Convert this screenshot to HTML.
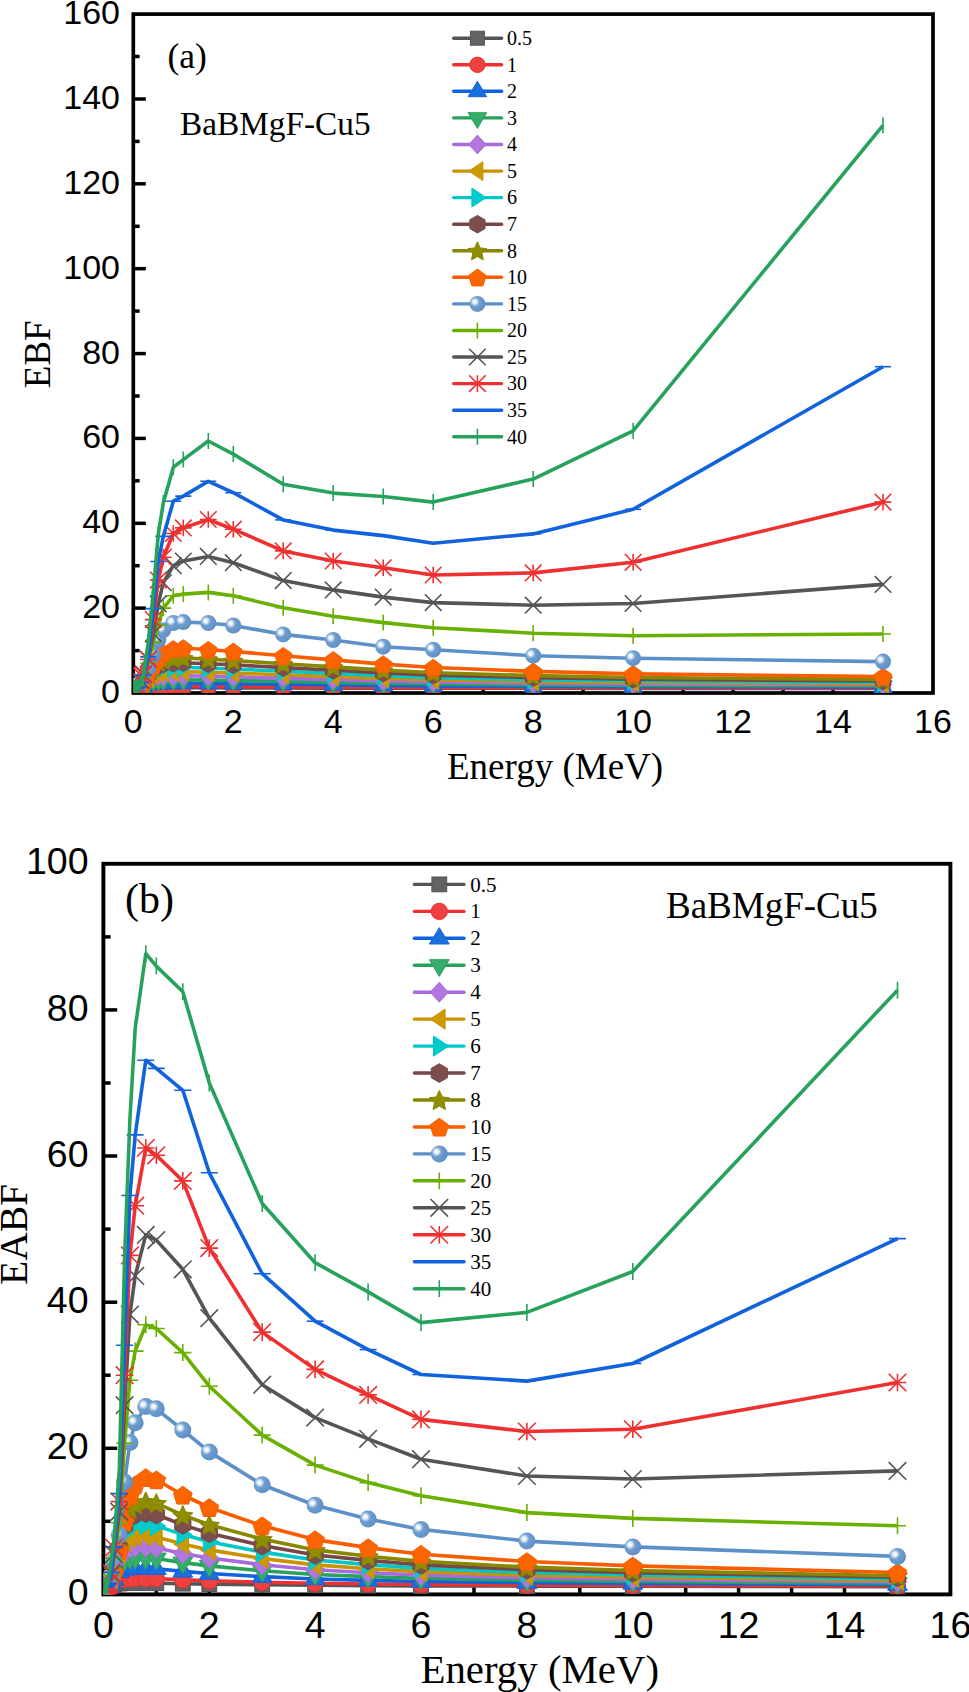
<!DOCTYPE html>
<html><head><meta charset="utf-8"><style>html,body{margin:0;padding:0;background:#fff;width:969px;height:1692px;overflow:hidden}svg{display:block}</style></head><body>
<svg width="969" height="1692" viewBox="0 0 969 1692">
<defs><radialGradient id="sph" cx="0.34" cy="0.37" r="0.66"><stop offset="0" stop-color="#ffffff"/><stop offset="0.18" stop-color="#e8f0f8"/><stop offset="0.45" stop-color="#6f9fd0"/><stop offset="1" stop-color="#5f8fc4"/></radialGradient></defs>
<rect width="969" height="1692" fill="#fff"/>
<clipPath id="ca"><rect x="133.30" y="14.10" width="799.70" height="678.90"/></clipPath>
<rect x="133.3" y="14.1" width="799.7" height="678.9" fill="none" stroke="#000" stroke-width="3.7"/>
<path d="M133.3,650.6H139.6" stroke="#000" stroke-width="3.5"/>
<path d="M133.3,608.1H145.8" stroke="#000" stroke-width="3.5"/>
<path d="M133.3,565.7H139.6" stroke="#000" stroke-width="3.5"/>
<path d="M133.3,523.3H145.8" stroke="#000" stroke-width="3.5"/>
<path d="M133.3,480.8H139.6" stroke="#000" stroke-width="3.5"/>
<path d="M133.3,438.4H145.8" stroke="#000" stroke-width="3.5"/>
<path d="M133.3,396.0H139.6" stroke="#000" stroke-width="3.5"/>
<path d="M133.3,353.6H145.8" stroke="#000" stroke-width="3.5"/>
<path d="M133.3,311.1H139.6" stroke="#000" stroke-width="3.5"/>
<path d="M133.3,268.7H145.8" stroke="#000" stroke-width="3.5"/>
<path d="M133.3,226.3H139.6" stroke="#000" stroke-width="3.5"/>
<path d="M133.3,183.8H145.8" stroke="#000" stroke-width="3.5"/>
<path d="M133.3,141.4H139.6" stroke="#000" stroke-width="3.5"/>
<path d="M133.3,99.0H145.8" stroke="#000" stroke-width="3.5"/>
<path d="M133.3,56.5H139.6" stroke="#000" stroke-width="3.5"/>
<path d="M183.3,693.0V686.7" stroke="#000" stroke-width="3.5"/>
<path d="M233.3,693.0V680.5" stroke="#000" stroke-width="3.5"/>
<path d="M283.2,693.0V686.7" stroke="#000" stroke-width="3.5"/>
<path d="M333.2,693.0V680.5" stroke="#000" stroke-width="3.5"/>
<path d="M383.2,693.0V686.7" stroke="#000" stroke-width="3.5"/>
<path d="M433.2,693.0V680.5" stroke="#000" stroke-width="3.5"/>
<path d="M483.2,693.0V686.7" stroke="#000" stroke-width="3.5"/>
<path d="M533.2,693.0V680.5" stroke="#000" stroke-width="3.5"/>
<path d="M583.1,693.0V686.7" stroke="#000" stroke-width="3.5"/>
<path d="M633.1,693.0V680.5" stroke="#000" stroke-width="3.5"/>
<path d="M683.1,693.0V686.7" stroke="#000" stroke-width="3.5"/>
<path d="M733.1,693.0V680.5" stroke="#000" stroke-width="3.5"/>
<path d="M783.1,693.0V686.7" stroke="#000" stroke-width="3.5"/>
<path d="M833.0,693.0V680.5" stroke="#000" stroke-width="3.5"/>
<path d="M883.0,693.0V686.7" stroke="#000" stroke-width="3.5"/>
<g clip-path="url(#ca)">
<path d="M134.0,688.8 L134.3,688.7 L134.8,688.7 L135.3,688.7 L135.8,688.7 L136.3,688.7 L137.3,688.7 L138.3,688.6 L140.8,688.5 L143.3,688.3 L148.3,688.0 L153.3,687.9 L158.3,687.8 L163.3,687.8 L173.3,687.8 L183.3,687.8 L208.3,687.8 L233.3,687.9 L283.2,688.0 L333.2,688.1 L383.2,688.2 L433.2,688.3 L533.2,688.3 L633.1,688.4 L883.0,688.5" fill="none" stroke="#555555" stroke-width="3.6" stroke-linejoin="round"/>
<rect x="127.0" y="681.8" width="14.0" height="14.0" fill="#636363" stroke="#555555" stroke-width="1"/>
<rect x="127.3" y="681.7" width="14.0" height="14.0" fill="#636363" stroke="#555555" stroke-width="1"/>
<rect x="127.8" y="681.7" width="14.0" height="14.0" fill="#636363" stroke="#555555" stroke-width="1"/>
<rect x="128.3" y="681.7" width="14.0" height="14.0" fill="#636363" stroke="#555555" stroke-width="1"/>
<rect x="128.8" y="681.7" width="14.0" height="14.0" fill="#636363" stroke="#555555" stroke-width="1"/>
<rect x="129.3" y="681.7" width="14.0" height="14.0" fill="#636363" stroke="#555555" stroke-width="1"/>
<rect x="130.3" y="681.7" width="14.0" height="14.0" fill="#636363" stroke="#555555" stroke-width="1"/>
<rect x="131.3" y="681.6" width="14.0" height="14.0" fill="#636363" stroke="#555555" stroke-width="1"/>
<rect x="133.8" y="681.5" width="14.0" height="14.0" fill="#636363" stroke="#555555" stroke-width="1"/>
<rect x="136.3" y="681.3" width="14.0" height="14.0" fill="#636363" stroke="#555555" stroke-width="1"/>
<rect x="141.3" y="681.0" width="14.0" height="14.0" fill="#636363" stroke="#555555" stroke-width="1"/>
<rect x="146.3" y="680.9" width="14.0" height="14.0" fill="#636363" stroke="#555555" stroke-width="1"/>
<rect x="151.3" y="680.8" width="14.0" height="14.0" fill="#636363" stroke="#555555" stroke-width="1"/>
<rect x="156.3" y="680.8" width="14.0" height="14.0" fill="#636363" stroke="#555555" stroke-width="1"/>
<rect x="166.3" y="680.8" width="14.0" height="14.0" fill="#636363" stroke="#555555" stroke-width="1"/>
<rect x="176.3" y="680.8" width="14.0" height="14.0" fill="#636363" stroke="#555555" stroke-width="1"/>
<rect x="201.3" y="680.8" width="14.0" height="14.0" fill="#636363" stroke="#555555" stroke-width="1"/>
<rect x="226.3" y="680.9" width="14.0" height="14.0" fill="#636363" stroke="#555555" stroke-width="1"/>
<rect x="276.2" y="681.0" width="14.0" height="14.0" fill="#636363" stroke="#555555" stroke-width="1"/>
<rect x="326.2" y="681.1" width="14.0" height="14.0" fill="#636363" stroke="#555555" stroke-width="1"/>
<rect x="376.2" y="681.2" width="14.0" height="14.0" fill="#636363" stroke="#555555" stroke-width="1"/>
<rect x="426.2" y="681.3" width="14.0" height="14.0" fill="#636363" stroke="#555555" stroke-width="1"/>
<rect x="526.2" y="681.3" width="14.0" height="14.0" fill="#636363" stroke="#555555" stroke-width="1"/>
<rect x="626.1" y="681.4" width="14.0" height="14.0" fill="#636363" stroke="#555555" stroke-width="1"/>
<rect x="876.0" y="681.5" width="14.0" height="14.0" fill="#636363" stroke="#555555" stroke-width="1"/>
<path d="M134.0,688.7 L134.3,688.7 L134.8,688.7 L135.3,688.7 L135.8,688.7 L136.3,688.7 L137.3,688.6 L138.3,688.5 L140.8,688.1 L143.3,687.7 L148.3,687.0 L153.3,686.6 L158.3,686.5 L163.3,686.5 L173.3,686.5 L183.3,686.5 L208.3,686.6 L233.3,686.7 L283.2,686.9 L333.2,687.1 L383.2,687.4 L433.2,687.6 L533.2,687.8 L633.1,687.9 L883.0,688.1" fill="none" stroke="#EE3030" stroke-width="3.6" stroke-linejoin="round"/>
<circle cx="134.0" cy="688.7" r="7.7" fill="#F14040" stroke="#EE3030" stroke-width="1"/>
<circle cx="134.3" cy="688.7" r="7.7" fill="#F14040" stroke="#EE3030" stroke-width="1"/>
<circle cx="134.8" cy="688.7" r="7.7" fill="#F14040" stroke="#EE3030" stroke-width="1"/>
<circle cx="135.3" cy="688.7" r="7.7" fill="#F14040" stroke="#EE3030" stroke-width="1"/>
<circle cx="135.8" cy="688.7" r="7.7" fill="#F14040" stroke="#EE3030" stroke-width="1"/>
<circle cx="136.3" cy="688.7" r="7.7" fill="#F14040" stroke="#EE3030" stroke-width="1"/>
<circle cx="137.3" cy="688.6" r="7.7" fill="#F14040" stroke="#EE3030" stroke-width="1"/>
<circle cx="138.3" cy="688.5" r="7.7" fill="#F14040" stroke="#EE3030" stroke-width="1"/>
<circle cx="140.8" cy="688.1" r="7.7" fill="#F14040" stroke="#EE3030" stroke-width="1"/>
<circle cx="143.3" cy="687.7" r="7.7" fill="#F14040" stroke="#EE3030" stroke-width="1"/>
<circle cx="148.3" cy="687.0" r="7.7" fill="#F14040" stroke="#EE3030" stroke-width="1"/>
<circle cx="153.3" cy="686.6" r="7.7" fill="#F14040" stroke="#EE3030" stroke-width="1"/>
<circle cx="158.3" cy="686.5" r="7.7" fill="#F14040" stroke="#EE3030" stroke-width="1"/>
<circle cx="163.3" cy="686.5" r="7.7" fill="#F14040" stroke="#EE3030" stroke-width="1"/>
<circle cx="173.3" cy="686.5" r="7.7" fill="#F14040" stroke="#EE3030" stroke-width="1"/>
<circle cx="183.3" cy="686.5" r="7.7" fill="#F14040" stroke="#EE3030" stroke-width="1"/>
<circle cx="208.3" cy="686.6" r="7.7" fill="#F14040" stroke="#EE3030" stroke-width="1"/>
<circle cx="233.3" cy="686.7" r="7.7" fill="#F14040" stroke="#EE3030" stroke-width="1"/>
<circle cx="283.2" cy="686.9" r="7.7" fill="#F14040" stroke="#EE3030" stroke-width="1"/>
<circle cx="333.2" cy="687.1" r="7.7" fill="#F14040" stroke="#EE3030" stroke-width="1"/>
<circle cx="383.2" cy="687.4" r="7.7" fill="#F14040" stroke="#EE3030" stroke-width="1"/>
<circle cx="433.2" cy="687.6" r="7.7" fill="#F14040" stroke="#EE3030" stroke-width="1"/>
<circle cx="533.2" cy="687.8" r="7.7" fill="#F14040" stroke="#EE3030" stroke-width="1"/>
<circle cx="633.1" cy="687.9" r="7.7" fill="#F14040" stroke="#EE3030" stroke-width="1"/>
<circle cx="883.0" cy="688.1" r="7.7" fill="#F14040" stroke="#EE3030" stroke-width="1"/>
<path d="M134.0,688.7 L134.3,688.7 L134.8,688.7 L135.3,688.7 L135.8,688.6 L136.3,688.6 L137.3,688.4 L138.3,688.2 L140.8,687.4 L143.3,686.5 L148.3,684.7 L153.3,683.8 L158.3,683.4 L163.3,683.4 L173.3,683.4 L183.3,683.3 L208.3,683.5 L233.3,683.8 L283.2,684.3 L333.2,684.9 L383.2,685.5 L433.2,685.9 L533.2,686.4 L633.1,686.8 L883.0,687.1" fill="none" stroke="#1162DD" stroke-width="3.6" stroke-linejoin="round"/>
<path d="M134.0,678.7L143.3,694.1L124.7,694.1Z" fill="#1A6FDF" stroke="#1162DD" stroke-width="1"/>
<path d="M134.3,678.7L143.6,694.1L125.0,694.1Z" fill="#1A6FDF" stroke="#1162DD" stroke-width="1"/>
<path d="M134.8,678.7L144.1,694.1L125.5,694.1Z" fill="#1A6FDF" stroke="#1162DD" stroke-width="1"/>
<path d="M135.3,678.7L144.6,694.1L126.0,694.1Z" fill="#1A6FDF" stroke="#1162DD" stroke-width="1"/>
<path d="M135.8,678.6L145.1,694.0L126.5,694.0Z" fill="#1A6FDF" stroke="#1162DD" stroke-width="1"/>
<path d="M136.3,678.6L145.6,694.0L127.0,694.0Z" fill="#1A6FDF" stroke="#1162DD" stroke-width="1"/>
<path d="M137.3,678.4L146.6,693.8L128.0,693.8Z" fill="#1A6FDF" stroke="#1162DD" stroke-width="1"/>
<path d="M138.3,678.2L147.6,693.6L129.0,693.6Z" fill="#1A6FDF" stroke="#1162DD" stroke-width="1"/>
<path d="M140.8,677.4L150.1,692.8L131.5,692.8Z" fill="#1A6FDF" stroke="#1162DD" stroke-width="1"/>
<path d="M143.3,676.5L152.6,691.9L134.0,691.9Z" fill="#1A6FDF" stroke="#1162DD" stroke-width="1"/>
<path d="M148.3,674.7L157.6,690.1L139.0,690.1Z" fill="#1A6FDF" stroke="#1162DD" stroke-width="1"/>
<path d="M153.3,673.8L162.6,689.2L144.0,689.2Z" fill="#1A6FDF" stroke="#1162DD" stroke-width="1"/>
<path d="M158.3,673.4L167.6,688.8L149.0,688.8Z" fill="#1A6FDF" stroke="#1162DD" stroke-width="1"/>
<path d="M163.3,673.4L172.6,688.8L154.0,688.8Z" fill="#1A6FDF" stroke="#1162DD" stroke-width="1"/>
<path d="M173.3,673.4L182.6,688.8L164.0,688.8Z" fill="#1A6FDF" stroke="#1162DD" stroke-width="1"/>
<path d="M183.3,673.3L192.6,688.7L174.0,688.7Z" fill="#1A6FDF" stroke="#1162DD" stroke-width="1"/>
<path d="M208.3,673.5L217.6,688.9L199.0,688.9Z" fill="#1A6FDF" stroke="#1162DD" stroke-width="1"/>
<path d="M233.3,673.8L242.6,689.2L224.0,689.2Z" fill="#1A6FDF" stroke="#1162DD" stroke-width="1"/>
<path d="M283.2,674.3L292.5,689.7L273.9,689.7Z" fill="#1A6FDF" stroke="#1162DD" stroke-width="1"/>
<path d="M333.2,674.9L342.5,690.3L323.9,690.3Z" fill="#1A6FDF" stroke="#1162DD" stroke-width="1"/>
<path d="M383.2,675.5L392.5,690.9L373.9,690.9Z" fill="#1A6FDF" stroke="#1162DD" stroke-width="1"/>
<path d="M433.2,675.9L442.5,691.3L423.9,691.3Z" fill="#1A6FDF" stroke="#1162DD" stroke-width="1"/>
<path d="M533.2,676.4L542.5,691.8L523.9,691.8Z" fill="#1A6FDF" stroke="#1162DD" stroke-width="1"/>
<path d="M633.1,676.8L642.4,692.2L623.8,692.2Z" fill="#1A6FDF" stroke="#1162DD" stroke-width="1"/>
<path d="M883.0,677.1L892.3,692.5L873.7,692.5Z" fill="#1A6FDF" stroke="#1162DD" stroke-width="1"/>
<path d="M134.0,688.7 L134.3,688.7 L134.8,688.7 L135.3,688.6 L135.8,688.5 L136.3,688.5 L137.3,688.2 L138.3,687.9 L140.8,686.7 L143.3,685.2 L148.3,682.4 L153.3,680.6 L158.3,680.0 L163.3,679.9 L173.3,679.9 L183.3,679.7 L208.3,680.1 L233.3,680.5 L283.2,681.4 L333.2,682.4 L383.2,683.3 L433.2,684.0 L533.2,684.9 L633.1,685.5 L883.0,686.0" fill="none" stroke="#27A25C" stroke-width="3.6" stroke-linejoin="round"/>
<path d="M134.0,699.2L143.3,683.5L124.7,683.5Z" fill="#37AD6B" stroke="#27A25C" stroke-width="1"/>
<path d="M134.3,699.2L143.6,683.5L125.0,683.5Z" fill="#37AD6B" stroke="#27A25C" stroke-width="1"/>
<path d="M134.8,699.2L144.1,683.5L125.5,683.5Z" fill="#37AD6B" stroke="#27A25C" stroke-width="1"/>
<path d="M135.3,699.1L144.6,683.4L126.0,683.4Z" fill="#37AD6B" stroke="#27A25C" stroke-width="1"/>
<path d="M135.8,699.0L145.1,683.3L126.5,683.3Z" fill="#37AD6B" stroke="#27A25C" stroke-width="1"/>
<path d="M136.3,699.0L145.6,683.3L127.0,683.3Z" fill="#37AD6B" stroke="#27A25C" stroke-width="1"/>
<path d="M137.3,698.7L146.6,683.0L128.0,683.0Z" fill="#37AD6B" stroke="#27A25C" stroke-width="1"/>
<path d="M138.3,698.4L147.6,682.7L129.0,682.7Z" fill="#37AD6B" stroke="#27A25C" stroke-width="1"/>
<path d="M140.8,697.2L150.1,681.5L131.5,681.5Z" fill="#37AD6B" stroke="#27A25C" stroke-width="1"/>
<path d="M143.3,695.7L152.6,680.0L134.0,680.0Z" fill="#37AD6B" stroke="#27A25C" stroke-width="1"/>
<path d="M148.3,692.9L157.6,677.2L139.0,677.2Z" fill="#37AD6B" stroke="#27A25C" stroke-width="1"/>
<path d="M153.3,691.1L162.6,675.4L144.0,675.4Z" fill="#37AD6B" stroke="#27A25C" stroke-width="1"/>
<path d="M158.3,690.5L167.6,674.8L149.0,674.8Z" fill="#37AD6B" stroke="#27A25C" stroke-width="1"/>
<path d="M163.3,690.4L172.6,674.7L154.0,674.7Z" fill="#37AD6B" stroke="#27A25C" stroke-width="1"/>
<path d="M173.3,690.4L182.6,674.7L164.0,674.7Z" fill="#37AD6B" stroke="#27A25C" stroke-width="1"/>
<path d="M183.3,690.2L192.6,674.5L174.0,674.5Z" fill="#37AD6B" stroke="#27A25C" stroke-width="1"/>
<path d="M208.3,690.6L217.6,674.9L199.0,674.9Z" fill="#37AD6B" stroke="#27A25C" stroke-width="1"/>
<path d="M233.3,691.0L242.6,675.3L224.0,675.3Z" fill="#37AD6B" stroke="#27A25C" stroke-width="1"/>
<path d="M283.2,691.9L292.5,676.2L273.9,676.2Z" fill="#37AD6B" stroke="#27A25C" stroke-width="1"/>
<path d="M333.2,692.9L342.5,677.2L323.9,677.2Z" fill="#37AD6B" stroke="#27A25C" stroke-width="1"/>
<path d="M383.2,693.8L392.5,678.1L373.9,678.1Z" fill="#37AD6B" stroke="#27A25C" stroke-width="1"/>
<path d="M433.2,694.5L442.5,678.8L423.9,678.8Z" fill="#37AD6B" stroke="#27A25C" stroke-width="1"/>
<path d="M533.2,695.4L542.5,679.7L523.9,679.7Z" fill="#37AD6B" stroke="#27A25C" stroke-width="1"/>
<path d="M633.1,696.0L642.4,680.3L623.8,680.3Z" fill="#37AD6B" stroke="#27A25C" stroke-width="1"/>
<path d="M883.0,696.5L892.3,680.8L873.7,680.8Z" fill="#37AD6B" stroke="#27A25C" stroke-width="1"/>
<path d="M134.0,688.7 L134.3,688.7 L134.8,688.6 L135.3,688.5 L135.8,688.5 L136.3,688.4 L137.3,688.1 L138.3,687.7 L140.8,686.1 L143.3,684.1 L148.3,680.3 L153.3,677.4 L158.3,676.4 L163.3,676.1 L173.3,676.1 L183.3,675.8 L208.3,676.3 L233.3,676.9 L283.2,678.2 L333.2,679.6 L383.2,680.9 L433.2,682.0 L533.2,683.2 L633.1,684.0 L883.0,684.8" fill="none" stroke="#A96ADD" stroke-width="3.6" stroke-linejoin="round"/>
<path d="M134.0,679.3L142.6,688.7L134.0,698.1L125.4,688.7Z" fill="#B177DE" stroke="#A96ADD" stroke-width="1"/>
<path d="M134.3,679.3L142.9,688.7L134.3,698.1L125.7,688.7Z" fill="#B177DE" stroke="#A96ADD" stroke-width="1"/>
<path d="M134.8,679.2L143.4,688.6L134.8,698.0L126.2,688.6Z" fill="#B177DE" stroke="#A96ADD" stroke-width="1"/>
<path d="M135.3,679.1L143.9,688.5L135.3,697.9L126.7,688.5Z" fill="#B177DE" stroke="#A96ADD" stroke-width="1"/>
<path d="M135.8,679.1L144.4,688.5L135.8,697.9L127.2,688.5Z" fill="#B177DE" stroke="#A96ADD" stroke-width="1"/>
<path d="M136.3,679.0L144.9,688.4L136.3,697.8L127.7,688.4Z" fill="#B177DE" stroke="#A96ADD" stroke-width="1"/>
<path d="M137.3,678.7L145.9,688.1L137.3,697.5L128.7,688.1Z" fill="#B177DE" stroke="#A96ADD" stroke-width="1"/>
<path d="M138.3,678.3L146.9,687.7L138.3,697.1L129.7,687.7Z" fill="#B177DE" stroke="#A96ADD" stroke-width="1"/>
<path d="M140.8,676.7L149.4,686.1L140.8,695.5L132.2,686.1Z" fill="#B177DE" stroke="#A96ADD" stroke-width="1"/>
<path d="M143.3,674.7L151.9,684.1L143.3,693.5L134.7,684.1Z" fill="#B177DE" stroke="#A96ADD" stroke-width="1"/>
<path d="M148.3,670.9L156.9,680.3L148.3,689.7L139.7,680.3Z" fill="#B177DE" stroke="#A96ADD" stroke-width="1"/>
<path d="M153.3,668.0L161.9,677.4L153.3,686.8L144.7,677.4Z" fill="#B177DE" stroke="#A96ADD" stroke-width="1"/>
<path d="M158.3,667.0L166.9,676.4L158.3,685.8L149.7,676.4Z" fill="#B177DE" stroke="#A96ADD" stroke-width="1"/>
<path d="M163.3,666.7L171.9,676.1L163.3,685.5L154.7,676.1Z" fill="#B177DE" stroke="#A96ADD" stroke-width="1"/>
<path d="M173.3,666.7L181.9,676.1L173.3,685.5L164.7,676.1Z" fill="#B177DE" stroke="#A96ADD" stroke-width="1"/>
<path d="M183.3,666.4L191.9,675.8L183.3,685.2L174.7,675.8Z" fill="#B177DE" stroke="#A96ADD" stroke-width="1"/>
<path d="M208.3,666.9L216.9,676.3L208.3,685.7L199.7,676.3Z" fill="#B177DE" stroke="#A96ADD" stroke-width="1"/>
<path d="M233.3,667.5L241.9,676.9L233.3,686.3L224.7,676.9Z" fill="#B177DE" stroke="#A96ADD" stroke-width="1"/>
<path d="M283.2,668.8L291.8,678.2L283.2,687.6L274.6,678.2Z" fill="#B177DE" stroke="#A96ADD" stroke-width="1"/>
<path d="M333.2,670.2L341.8,679.6L333.2,689.0L324.6,679.6Z" fill="#B177DE" stroke="#A96ADD" stroke-width="1"/>
<path d="M383.2,671.5L391.8,680.9L383.2,690.3L374.6,680.9Z" fill="#B177DE" stroke="#A96ADD" stroke-width="1"/>
<path d="M433.2,672.6L441.8,682.0L433.2,691.4L424.6,682.0Z" fill="#B177DE" stroke="#A96ADD" stroke-width="1"/>
<path d="M533.2,673.8L541.8,683.2L533.2,692.6L524.6,683.2Z" fill="#B177DE" stroke="#A96ADD" stroke-width="1"/>
<path d="M633.1,674.6L641.7,684.0L633.1,693.4L624.5,684.0Z" fill="#B177DE" stroke="#A96ADD" stroke-width="1"/>
<path d="M883.0,675.4L891.6,684.8L883.0,694.2L874.4,684.8Z" fill="#B177DE" stroke="#A96ADD" stroke-width="1"/>
<path d="M134.0,688.7 L134.3,688.7 L134.8,688.6 L135.3,688.5 L135.8,688.4 L136.3,688.3 L137.3,688.0 L138.3,687.5 L140.8,685.7 L143.3,683.2 L148.3,678.3 L153.3,674.4 L158.3,672.8 L163.3,672.0 L173.3,672.0 L183.3,671.6 L208.3,672.3 L233.3,673.1 L283.2,674.8 L333.2,676.6 L383.2,678.4 L433.2,679.8 L533.2,681.4 L633.1,682.5 L883.0,683.6" fill="none" stroke="#C99300" stroke-width="3.6" stroke-linejoin="round"/>
<path d="M125.5,688.7L139.5,679.2L139.5,698.2Z" fill="#CC9900" stroke="#C99300" stroke-width="1"/>
<path d="M125.8,688.7L139.8,679.2L139.8,698.2Z" fill="#CC9900" stroke="#C99300" stroke-width="1"/>
<path d="M126.3,688.6L140.3,679.1L140.3,698.1Z" fill="#CC9900" stroke="#C99300" stroke-width="1"/>
<path d="M126.8,688.5L140.8,679.0L140.8,698.0Z" fill="#CC9900" stroke="#C99300" stroke-width="1"/>
<path d="M127.3,688.4L141.3,678.9L141.3,697.9Z" fill="#CC9900" stroke="#C99300" stroke-width="1"/>
<path d="M127.8,688.3L141.8,678.8L141.8,697.8Z" fill="#CC9900" stroke="#C99300" stroke-width="1"/>
<path d="M128.8,688.0L142.8,678.5L142.8,697.5Z" fill="#CC9900" stroke="#C99300" stroke-width="1"/>
<path d="M129.8,687.5L143.8,678.0L143.8,697.0Z" fill="#CC9900" stroke="#C99300" stroke-width="1"/>
<path d="M132.3,685.7L146.3,676.2L146.3,695.2Z" fill="#CC9900" stroke="#C99300" stroke-width="1"/>
<path d="M134.8,683.2L148.8,673.7L148.8,692.7Z" fill="#CC9900" stroke="#C99300" stroke-width="1"/>
<path d="M139.8,678.3L153.8,668.8L153.8,687.8Z" fill="#CC9900" stroke="#C99300" stroke-width="1"/>
<path d="M144.8,674.4L158.8,664.9L158.8,683.9Z" fill="#CC9900" stroke="#C99300" stroke-width="1"/>
<path d="M149.8,672.8L163.8,663.3L163.8,682.3Z" fill="#CC9900" stroke="#C99300" stroke-width="1"/>
<path d="M154.8,672.0L168.8,662.5L168.8,681.5Z" fill="#CC9900" stroke="#C99300" stroke-width="1"/>
<path d="M164.8,672.0L178.8,662.5L178.8,681.5Z" fill="#CC9900" stroke="#C99300" stroke-width="1"/>
<path d="M174.8,671.6L188.8,662.1L188.8,681.1Z" fill="#CC9900" stroke="#C99300" stroke-width="1"/>
<path d="M199.8,672.3L213.8,662.8L213.8,681.8Z" fill="#CC9900" stroke="#C99300" stroke-width="1"/>
<path d="M224.8,673.1L238.8,663.6L238.8,682.6Z" fill="#CC9900" stroke="#C99300" stroke-width="1"/>
<path d="M274.7,674.8L288.7,665.3L288.7,684.3Z" fill="#CC9900" stroke="#C99300" stroke-width="1"/>
<path d="M324.7,676.6L338.7,667.1L338.7,686.1Z" fill="#CC9900" stroke="#C99300" stroke-width="1"/>
<path d="M374.7,678.4L388.7,668.9L388.7,687.9Z" fill="#CC9900" stroke="#C99300" stroke-width="1"/>
<path d="M424.7,679.8L438.7,670.3L438.7,689.3Z" fill="#CC9900" stroke="#C99300" stroke-width="1"/>
<path d="M524.7,681.4L538.7,671.9L538.7,690.9Z" fill="#CC9900" stroke="#C99300" stroke-width="1"/>
<path d="M624.6,682.5L638.6,673.0L638.6,692.0Z" fill="#CC9900" stroke="#C99300" stroke-width="1"/>
<path d="M874.5,683.6L888.5,674.1L888.5,693.1Z" fill="#CC9900" stroke="#C99300" stroke-width="1"/>
<path d="M134.0,688.7 L134.3,688.7 L134.8,688.6 L135.3,688.5 L135.8,688.4 L136.3,688.2 L137.3,688.0 L138.3,687.4 L140.8,685.5 L143.3,682.5 L148.3,676.6 L153.3,671.6 L158.3,669.1 L163.3,667.8 L173.3,667.7 L183.3,667.2 L208.3,668.1 L233.3,669.0 L283.2,671.3 L333.2,673.5 L383.2,675.8 L433.2,677.6 L533.2,679.6 L633.1,680.9 L883.0,682.3" fill="none" stroke="#00C6C8" stroke-width="3.6" stroke-linejoin="round"/>
<path d="M142.8,688.7L128.5,679.2L128.5,698.2Z" fill="#00CBCC" stroke="#00C6C8" stroke-width="1"/>
<path d="M143.1,688.7L128.8,679.2L128.8,698.2Z" fill="#00CBCC" stroke="#00C6C8" stroke-width="1"/>
<path d="M143.6,688.6L129.3,679.1L129.3,698.1Z" fill="#00CBCC" stroke="#00C6C8" stroke-width="1"/>
<path d="M144.1,688.5L129.8,679.0L129.8,698.0Z" fill="#00CBCC" stroke="#00C6C8" stroke-width="1"/>
<path d="M144.6,688.4L130.3,678.9L130.3,697.9Z" fill="#00CBCC" stroke="#00C6C8" stroke-width="1"/>
<path d="M145.1,688.2L130.8,678.7L130.8,697.7Z" fill="#00CBCC" stroke="#00C6C8" stroke-width="1"/>
<path d="M146.1,688.0L131.8,678.5L131.8,697.5Z" fill="#00CBCC" stroke="#00C6C8" stroke-width="1"/>
<path d="M147.1,687.4L132.8,677.9L132.8,696.9Z" fill="#00CBCC" stroke="#00C6C8" stroke-width="1"/>
<path d="M149.6,685.5L135.3,676.0L135.3,695.0Z" fill="#00CBCC" stroke="#00C6C8" stroke-width="1"/>
<path d="M152.1,682.5L137.8,673.0L137.8,692.0Z" fill="#00CBCC" stroke="#00C6C8" stroke-width="1"/>
<path d="M157.1,676.6L142.8,667.1L142.8,686.1Z" fill="#00CBCC" stroke="#00C6C8" stroke-width="1"/>
<path d="M162.1,671.6L147.8,662.1L147.8,681.1Z" fill="#00CBCC" stroke="#00C6C8" stroke-width="1"/>
<path d="M167.1,669.1L152.8,659.6L152.8,678.6Z" fill="#00CBCC" stroke="#00C6C8" stroke-width="1"/>
<path d="M172.1,667.8L157.8,658.3L157.8,677.3Z" fill="#00CBCC" stroke="#00C6C8" stroke-width="1"/>
<path d="M182.1,667.7L167.8,658.2L167.8,677.2Z" fill="#00CBCC" stroke="#00C6C8" stroke-width="1"/>
<path d="M192.1,667.2L177.8,657.7L177.8,676.7Z" fill="#00CBCC" stroke="#00C6C8" stroke-width="1"/>
<path d="M217.1,668.1L202.8,658.6L202.8,677.6Z" fill="#00CBCC" stroke="#00C6C8" stroke-width="1"/>
<path d="M242.1,669.0L227.8,659.5L227.8,678.5Z" fill="#00CBCC" stroke="#00C6C8" stroke-width="1"/>
<path d="M292.0,671.3L277.7,661.8L277.7,680.8Z" fill="#00CBCC" stroke="#00C6C8" stroke-width="1"/>
<path d="M342.0,673.5L327.7,664.0L327.7,683.0Z" fill="#00CBCC" stroke="#00C6C8" stroke-width="1"/>
<path d="M392.0,675.8L377.7,666.3L377.7,685.3Z" fill="#00CBCC" stroke="#00C6C8" stroke-width="1"/>
<path d="M442.0,677.6L427.7,668.1L427.7,687.1Z" fill="#00CBCC" stroke="#00C6C8" stroke-width="1"/>
<path d="M542.0,679.6L527.7,670.1L527.7,689.1Z" fill="#00CBCC" stroke="#00C6C8" stroke-width="1"/>
<path d="M641.9,680.9L627.6,671.4L627.6,690.4Z" fill="#00CBCC" stroke="#00C6C8" stroke-width="1"/>
<path d="M891.8,682.3L877.5,672.8L877.5,691.8Z" fill="#00CBCC" stroke="#00C6C8" stroke-width="1"/>
<path d="M134.0,688.7 L134.3,688.7 L134.8,688.5 L135.3,688.4 L135.8,688.3 L136.3,688.2 L137.3,687.9 L138.3,687.3 L140.8,685.2 L143.3,682.1 L148.3,675.3 L153.3,669.1 L158.3,665.4 L163.3,663.9 L173.3,663.2 L183.3,662.7 L208.3,663.8 L233.3,664.8 L283.2,667.6 L333.2,670.3 L383.2,673.0 L433.2,675.2 L533.2,677.6 L633.1,679.2 L883.0,680.9" fill="none" stroke="#774646" stroke-width="3.6" stroke-linejoin="round"/>
<polygon points="134.0,679.9 126.4,684.3 126.4,693.1 134.0,697.5 141.7,693.1 141.7,684.3" fill="#7D4E4E" stroke="#774646" stroke-width="1"/>
<polygon points="134.3,679.9 126.7,684.3 126.7,693.1 134.3,697.5 141.9,693.1 141.9,684.3" fill="#7D4E4E" stroke="#774646" stroke-width="1"/>
<polygon points="134.8,679.7 127.2,684.1 127.2,692.9 134.8,697.3 142.4,692.9 142.4,684.1" fill="#7D4E4E" stroke="#774646" stroke-width="1"/>
<polygon points="135.3,679.6 127.7,684.0 127.7,692.8 135.3,697.2 142.9,692.8 142.9,684.0" fill="#7D4E4E" stroke="#774646" stroke-width="1"/>
<polygon points="135.8,679.5 128.2,683.9 128.2,692.7 135.8,697.1 143.4,692.7 143.4,683.9" fill="#7D4E4E" stroke="#774646" stroke-width="1"/>
<polygon points="136.3,679.4 128.7,683.8 128.7,692.6 136.3,697.0 143.9,692.6 143.9,683.8" fill="#7D4E4E" stroke="#774646" stroke-width="1"/>
<polygon points="137.3,679.1 129.7,683.5 129.7,692.3 137.3,696.7 144.9,692.3 144.9,683.5" fill="#7D4E4E" stroke="#774646" stroke-width="1"/>
<polygon points="138.3,678.5 130.7,682.9 130.7,691.7 138.3,696.1 145.9,691.7 145.9,682.9" fill="#7D4E4E" stroke="#774646" stroke-width="1"/>
<polygon points="140.8,676.4 133.2,680.8 133.2,689.6 140.8,694.0 148.4,689.6 148.4,680.8" fill="#7D4E4E" stroke="#774646" stroke-width="1"/>
<polygon points="143.3,673.3 135.7,677.7 135.7,686.5 143.3,690.9 150.9,686.5 150.9,677.7" fill="#7D4E4E" stroke="#774646" stroke-width="1"/>
<polygon points="148.3,666.5 140.7,670.9 140.7,679.7 148.3,684.1 155.9,679.7 155.9,670.9" fill="#7D4E4E" stroke="#774646" stroke-width="1"/>
<polygon points="153.3,660.3 145.7,664.7 145.7,673.5 153.3,677.9 160.9,673.5 160.9,664.7" fill="#7D4E4E" stroke="#774646" stroke-width="1"/>
<polygon points="158.3,656.6 150.7,661.0 150.7,669.8 158.3,674.2 165.9,669.8 165.9,661.0" fill="#7D4E4E" stroke="#774646" stroke-width="1"/>
<polygon points="163.3,655.1 155.7,659.5 155.7,668.3 163.3,672.7 170.9,668.3 170.9,659.5" fill="#7D4E4E" stroke="#774646" stroke-width="1"/>
<polygon points="173.3,654.4 165.7,658.8 165.7,667.6 173.3,672.0 180.9,667.6 180.9,658.8" fill="#7D4E4E" stroke="#774646" stroke-width="1"/>
<polygon points="183.3,653.9 175.7,658.3 175.7,667.1 183.3,671.5 190.9,667.1 190.9,658.3" fill="#7D4E4E" stroke="#774646" stroke-width="1"/>
<polygon points="208.3,655.0 200.7,659.4 200.7,668.2 208.3,672.6 215.9,668.2 215.9,659.4" fill="#7D4E4E" stroke="#774646" stroke-width="1"/>
<polygon points="233.3,656.0 225.6,660.4 225.6,669.2 233.3,673.6 240.9,669.2 240.9,660.4" fill="#7D4E4E" stroke="#774646" stroke-width="1"/>
<polygon points="283.2,658.8 275.6,663.2 275.6,672.0 283.2,676.4 290.9,672.0 290.9,663.2" fill="#7D4E4E" stroke="#774646" stroke-width="1"/>
<polygon points="333.2,661.5 325.6,665.9 325.6,674.7 333.2,679.1 340.8,674.7 340.8,665.9" fill="#7D4E4E" stroke="#774646" stroke-width="1"/>
<polygon points="383.2,664.2 375.6,668.6 375.6,677.4 383.2,681.8 390.8,677.4 390.8,668.6" fill="#7D4E4E" stroke="#774646" stroke-width="1"/>
<polygon points="433.2,666.4 425.6,670.8 425.6,679.6 433.2,684.0 440.8,679.6 440.8,670.8" fill="#7D4E4E" stroke="#774646" stroke-width="1"/>
<polygon points="533.2,668.8 525.5,673.2 525.5,682.0 533.2,686.4 540.8,682.0 540.8,673.2" fill="#7D4E4E" stroke="#774646" stroke-width="1"/>
<polygon points="633.1,670.4 625.5,674.8 625.5,683.6 633.1,688.0 640.7,683.6 640.7,674.8" fill="#7D4E4E" stroke="#774646" stroke-width="1"/>
<polygon points="883.0,672.1 875.4,676.5 875.4,685.3 883.0,689.7 890.6,685.3 890.6,676.5" fill="#7D4E4E" stroke="#774646" stroke-width="1"/>
<path d="M134.0,688.7 L134.3,688.7 L134.8,688.5 L135.3,688.4 L135.8,688.3 L136.3,688.1 L137.3,687.9 L138.3,687.3 L140.8,685.1 L143.3,681.9 L148.3,674.4 L153.3,667.4 L158.3,662.2 L163.3,660.1 L173.3,658.6 L183.3,657.9 L208.3,659.2 L233.3,660.5 L283.2,663.7 L333.2,666.9 L383.2,670.1 L433.2,672.7 L533.2,675.6 L633.1,677.5 L883.0,679.4" fill="none" stroke="#878700" stroke-width="3.6" stroke-linejoin="round"/>
<polygon points="134.0,679.7 131.2,685.8 124.5,686.6 129.5,691.2 128.2,697.8 134.0,694.5 139.9,697.8 138.6,691.2 143.6,686.6 136.9,685.8" fill="#8E8E00" stroke="#878700" stroke-width="1"/>
<polygon points="134.3,679.7 131.5,685.8 124.8,686.6 129.7,691.1 128.4,697.8 134.3,694.5 140.2,697.8 138.9,691.1 143.8,686.6 137.1,685.8" fill="#8E8E00" stroke="#878700" stroke-width="1"/>
<polygon points="134.8,679.5 132.0,685.6 125.3,686.4 130.2,691.0 128.9,697.6 134.8,694.3 140.7,697.6 139.4,691.0 144.3,686.4 137.6,685.6" fill="#8E8E00" stroke="#878700" stroke-width="1"/>
<polygon points="135.3,679.4 132.5,685.5 125.8,686.3 130.7,690.9 129.4,697.5 135.3,694.2 141.2,697.5 139.9,690.9 144.8,686.3 138.1,685.5" fill="#8E8E00" stroke="#878700" stroke-width="1"/>
<polygon points="135.8,679.3 133.0,685.4 126.3,686.2 131.2,690.8 129.9,697.4 135.8,694.1 141.7,697.4 140.4,690.8 145.3,686.2 138.6,685.4" fill="#8E8E00" stroke="#878700" stroke-width="1"/>
<polygon points="136.3,679.1 133.5,685.3 126.8,686.0 131.7,690.6 130.4,697.2 136.3,693.9 142.2,697.2 140.9,690.6 145.8,686.0 139.1,685.3" fill="#8E8E00" stroke="#878700" stroke-width="1"/>
<polygon points="137.3,678.9 134.5,685.0 127.8,685.8 132.7,690.4 131.4,697.0 137.3,693.7 143.2,697.0 141.9,690.4 146.8,685.8 140.1,685.0" fill="#8E8E00" stroke="#878700" stroke-width="1"/>
<polygon points="138.3,678.3 135.5,684.4 128.8,685.2 133.7,689.8 132.4,696.4 138.3,693.1 144.2,696.4 142.9,689.8 147.8,685.2 141.1,684.4" fill="#8E8E00" stroke="#878700" stroke-width="1"/>
<polygon points="140.8,676.1 138.0,682.2 131.3,683.0 136.2,687.6 134.9,694.2 140.8,690.9 146.7,694.2 145.4,687.6 150.3,683.0 143.6,682.2" fill="#8E8E00" stroke="#878700" stroke-width="1"/>
<polygon points="143.3,672.9 140.5,679.0 133.8,679.8 138.7,684.4 137.4,691.0 143.3,687.7 149.2,691.0 147.9,684.4 152.8,679.8 146.1,679.0" fill="#8E8E00" stroke="#878700" stroke-width="1"/>
<polygon points="148.3,665.4 145.5,671.6 138.8,672.3 143.7,676.9 142.4,683.5 148.3,680.2 154.2,683.5 152.9,676.9 157.8,672.3 151.1,671.6" fill="#8E8E00" stroke="#878700" stroke-width="1"/>
<polygon points="153.3,658.4 150.5,664.5 143.8,665.3 148.7,669.9 147.4,676.5 153.3,673.2 159.2,676.5 157.9,669.9 162.8,665.3 156.1,664.5" fill="#8E8E00" stroke="#878700" stroke-width="1"/>
<polygon points="158.3,653.2 155.5,659.4 148.8,660.1 153.7,664.7 152.4,671.3 158.3,668.0 164.2,671.3 162.9,664.7 167.8,660.1 161.1,659.4" fill="#8E8E00" stroke="#878700" stroke-width="1"/>
<polygon points="163.3,651.1 160.5,657.2 153.8,658.0 158.7,662.6 157.4,669.2 163.3,665.9 169.2,669.2 167.9,662.6 172.8,658.0 166.1,657.2" fill="#8E8E00" stroke="#878700" stroke-width="1"/>
<polygon points="173.3,649.6 170.5,655.7 163.8,656.5 168.7,661.1 167.4,667.7 173.3,664.4 179.2,667.7 177.9,661.1 182.8,656.5 176.1,655.7" fill="#8E8E00" stroke="#878700" stroke-width="1"/>
<polygon points="183.3,648.9 180.5,655.1 173.8,655.8 178.7,660.4 177.4,667.0 183.3,663.7 189.2,667.0 187.8,660.4 192.8,655.8 186.1,655.1" fill="#8E8E00" stroke="#878700" stroke-width="1"/>
<polygon points="208.3,650.2 205.5,656.3 198.8,657.1 203.7,661.7 202.4,668.3 208.3,665.0 214.1,668.3 212.8,661.7 217.8,657.1 211.1,656.3" fill="#8E8E00" stroke="#878700" stroke-width="1"/>
<polygon points="233.3,651.5 230.4,657.6 223.8,658.4 228.7,663.0 227.4,669.6 233.3,666.3 239.1,669.6 237.8,663.0 242.8,658.4 236.1,657.6" fill="#8E8E00" stroke="#878700" stroke-width="1"/>
<polygon points="283.2,654.7 280.4,660.8 273.7,661.6 278.7,666.2 277.4,672.8 283.2,669.5 289.1,672.8 287.8,666.2 292.8,661.6 286.1,660.8" fill="#8E8E00" stroke="#878700" stroke-width="1"/>
<polygon points="333.2,657.9 330.4,664.0 323.7,664.8 328.7,669.4 327.3,676.0 333.2,672.7 339.1,676.0 337.8,669.4 342.7,664.8 336.0,664.0" fill="#8E8E00" stroke="#878700" stroke-width="1"/>
<polygon points="383.2,661.1 380.4,667.3 373.7,668.0 378.6,672.6 377.3,679.2 383.2,675.9 389.1,679.2 387.8,672.6 392.7,668.0 386.0,667.3" fill="#8E8E00" stroke="#878700" stroke-width="1"/>
<polygon points="433.2,663.7 430.4,669.8 423.7,670.6 428.6,675.2 427.3,681.8 433.2,678.5 439.1,681.8 437.8,675.2 442.7,670.6 436.0,669.8" fill="#8E8E00" stroke="#878700" stroke-width="1"/>
<polygon points="533.2,666.6 530.3,672.7 523.6,673.5 528.6,678.1 527.3,684.7 533.2,681.4 539.0,684.7 537.7,678.1 542.7,673.5 536.0,672.7" fill="#8E8E00" stroke="#878700" stroke-width="1"/>
<polygon points="633.1,668.5 630.3,674.6 623.6,675.4 628.5,680.0 627.2,686.6 633.1,683.3 639.0,686.6 637.7,680.0 642.6,675.4 635.9,674.6" fill="#8E8E00" stroke="#878700" stroke-width="1"/>
<polygon points="883.0,670.4 880.2,676.6 873.5,677.4 878.5,681.9 877.1,688.5 883.0,685.2 888.9,688.5 887.6,681.9 892.5,677.4 885.8,676.6" fill="#8E8E00" stroke="#878700" stroke-width="1"/>
<path d="M134.0,688.8 L134.3,688.7 L134.8,688.5 L135.3,688.4 L135.8,688.2 L136.3,688.1 L137.3,687.8 L138.3,687.5 L140.8,685.4 L143.3,682.4 L148.3,673.9 L153.3,665.4 L158.3,657.8 L163.3,652.7 L173.3,648.9 L183.3,648.0 L208.3,649.7 L233.3,651.4 L283.2,655.7 L333.2,659.9 L383.2,664.1 L433.2,667.5 L533.2,671.4 L633.1,673.9 L883.0,676.5" fill="none" stroke="#FA5C00" stroke-width="3.6" stroke-linejoin="round"/>
<polygon points="134.0,680.5 125.2,686.9 128.6,697.3 139.5,697.3 142.9,686.9" fill="#FB6501" stroke="#FA5C00" stroke-width="1"/>
<polygon points="134.3,680.4 125.5,686.8 128.8,697.2 139.8,697.2 143.1,686.8" fill="#FB6501" stroke="#FA5C00" stroke-width="1"/>
<polygon points="134.8,680.2 126.0,686.7 129.3,697.1 140.3,697.1 143.6,686.7" fill="#FB6501" stroke="#FA5C00" stroke-width="1"/>
<polygon points="135.3,680.1 126.5,686.5 129.8,696.9 140.8,696.9 144.1,686.5" fill="#FB6501" stroke="#FA5C00" stroke-width="1"/>
<polygon points="135.8,679.9 127.0,686.4 130.3,696.8 141.3,696.8 144.6,686.4" fill="#FB6501" stroke="#FA5C00" stroke-width="1"/>
<polygon points="136.3,679.8 127.5,686.2 130.8,696.6 141.8,696.6 145.1,686.2" fill="#FB6501" stroke="#FA5C00" stroke-width="1"/>
<polygon points="137.3,679.5 128.5,685.9 131.8,696.3 142.8,696.3 146.1,685.9" fill="#FB6501" stroke="#FA5C00" stroke-width="1"/>
<polygon points="138.3,679.2 129.5,685.6 132.8,696.0 143.8,696.0 147.1,685.6" fill="#FB6501" stroke="#FA5C00" stroke-width="1"/>
<polygon points="140.8,677.1 132.0,683.5 135.3,693.9 146.3,693.9 149.6,683.5" fill="#FB6501" stroke="#FA5C00" stroke-width="1"/>
<polygon points="143.3,674.1 134.5,680.5 137.8,690.9 148.8,690.9 152.1,680.5" fill="#FB6501" stroke="#FA5C00" stroke-width="1"/>
<polygon points="148.3,665.6 139.4,672.0 142.8,682.4 153.8,682.4 157.1,672.0" fill="#FB6501" stroke="#FA5C00" stroke-width="1"/>
<polygon points="153.3,657.1 144.4,663.5 147.8,673.9 158.8,673.9 162.1,663.5" fill="#FB6501" stroke="#FA5C00" stroke-width="1"/>
<polygon points="158.3,649.5 149.4,655.9 152.8,666.3 163.8,666.3 167.1,655.9" fill="#FB6501" stroke="#FA5C00" stroke-width="1"/>
<polygon points="163.3,644.4 154.4,650.8 157.8,661.2 168.8,661.2 172.1,650.8" fill="#FB6501" stroke="#FA5C00" stroke-width="1"/>
<polygon points="173.3,640.6 164.4,647.0 167.8,657.4 178.8,657.4 182.1,647.0" fill="#FB6501" stroke="#FA5C00" stroke-width="1"/>
<polygon points="183.3,639.7 174.4,646.1 177.8,656.5 188.7,656.5 192.1,646.1" fill="#FB6501" stroke="#FA5C00" stroke-width="1"/>
<polygon points="208.3,641.4 199.4,647.8 202.8,658.2 213.7,658.2 217.1,647.8" fill="#FB6501" stroke="#FA5C00" stroke-width="1"/>
<polygon points="233.3,643.1 224.4,649.5 227.8,659.9 238.7,659.9 242.1,649.5" fill="#FB6501" stroke="#FA5C00" stroke-width="1"/>
<polygon points="283.2,647.4 274.4,653.8 277.8,664.2 288.7,664.2 292.1,653.8" fill="#FB6501" stroke="#FA5C00" stroke-width="1"/>
<polygon points="333.2,651.6 324.4,658.0 327.8,668.4 338.7,668.4 342.1,658.0" fill="#FB6501" stroke="#FA5C00" stroke-width="1"/>
<polygon points="383.2,655.8 374.4,662.3 377.7,672.7 388.7,672.7 392.1,662.3" fill="#FB6501" stroke="#FA5C00" stroke-width="1"/>
<polygon points="433.2,659.2 424.3,665.7 427.7,676.1 438.7,676.1 442.0,665.7" fill="#FB6501" stroke="#FA5C00" stroke-width="1"/>
<polygon points="533.2,663.1 524.3,669.5 527.7,679.9 538.6,679.9 542.0,669.5" fill="#FB6501" stroke="#FA5C00" stroke-width="1"/>
<polygon points="633.1,665.6 624.3,672.0 627.6,682.4 638.6,682.4 642.0,672.0" fill="#FB6501" stroke="#FA5C00" stroke-width="1"/>
<polygon points="883.0,668.2 874.2,674.6 877.6,685.0 888.5,685.0 891.9,674.6" fill="#FB6501" stroke="#FA5C00" stroke-width="1"/>
<path d="M134.0,688.8 L134.3,688.6 L134.8,688.4 L135.3,688.1 L135.8,687.9 L136.3,687.6 L137.3,687.1 L138.3,686.6 L140.8,682.4 L143.3,678.1 L148.3,667.5 L153.3,654.8 L158.3,640.0 L163.3,630.2 L173.3,623.0 L183.3,622.1 L208.3,623.0 L233.3,625.5 L283.2,634.4 L333.2,640.0 L383.2,646.7 L433.2,649.7 L533.2,655.7 L633.1,658.2 L883.0,661.6" fill="none" stroke="#5C90C8" stroke-width="3.6" stroke-linejoin="round"/>
<circle cx="134.0" cy="688.8" r="8.0" fill="url(#sph)"/>
<circle cx="134.3" cy="688.6" r="8.0" fill="url(#sph)"/>
<circle cx="134.8" cy="688.4" r="8.0" fill="url(#sph)"/>
<circle cx="135.3" cy="688.1" r="8.0" fill="url(#sph)"/>
<circle cx="135.8" cy="687.9" r="8.0" fill="url(#sph)"/>
<circle cx="136.3" cy="687.6" r="8.0" fill="url(#sph)"/>
<circle cx="137.3" cy="687.1" r="8.0" fill="url(#sph)"/>
<circle cx="138.3" cy="686.6" r="8.0" fill="url(#sph)"/>
<circle cx="140.8" cy="682.4" r="8.0" fill="url(#sph)"/>
<circle cx="143.3" cy="678.1" r="8.0" fill="url(#sph)"/>
<circle cx="148.3" cy="667.5" r="8.0" fill="url(#sph)"/>
<circle cx="153.3" cy="654.8" r="8.0" fill="url(#sph)"/>
<circle cx="158.3" cy="640.0" r="8.0" fill="url(#sph)"/>
<circle cx="163.3" cy="630.2" r="8.0" fill="url(#sph)"/>
<circle cx="173.3" cy="623.0" r="8.0" fill="url(#sph)"/>
<circle cx="183.3" cy="622.1" r="8.0" fill="url(#sph)"/>
<circle cx="208.3" cy="623.0" r="8.0" fill="url(#sph)"/>
<circle cx="233.3" cy="625.5" r="8.0" fill="url(#sph)"/>
<circle cx="283.2" cy="634.4" r="8.0" fill="url(#sph)"/>
<circle cx="333.2" cy="640.0" r="8.0" fill="url(#sph)"/>
<circle cx="383.2" cy="646.7" r="8.0" fill="url(#sph)"/>
<circle cx="433.2" cy="649.7" r="8.0" fill="url(#sph)"/>
<circle cx="533.2" cy="655.7" r="8.0" fill="url(#sph)"/>
<circle cx="633.1" cy="658.2" r="8.0" fill="url(#sph)"/>
<circle cx="883.0" cy="661.6" r="8.0" fill="url(#sph)"/>
<path d="M134.0,688.8 L134.3,688.6 L134.8,688.4 L135.3,688.1 L135.8,687.9 L136.3,687.6 L137.3,687.1 L138.3,686.6 L140.8,682.4 L143.3,678.1 L148.3,663.3 L153.3,642.1 L158.3,625.1 L163.3,608.1 L173.3,595.8 L183.3,594.1 L208.3,592.4 L233.3,595.8 L283.2,607.7 L333.2,616.2 L383.2,622.6 L433.2,627.7 L533.2,633.2 L633.1,635.7 L883.0,634.0" fill="none" stroke="#69B000" stroke-width="3.6" stroke-linejoin="round"/>
<path d="M134.0,680.8V696.8M126.0,688.8H142.0" stroke="#69B000" stroke-width="1.6"/>
<path d="M134.3,680.6V696.6M126.3,688.6H142.3" stroke="#69B000" stroke-width="1.6"/>
<path d="M134.8,680.4V696.4M126.8,688.4H142.8" stroke="#69B000" stroke-width="1.6"/>
<path d="M135.3,680.1V696.1M127.3,688.1H143.3" stroke="#69B000" stroke-width="1.6"/>
<path d="M135.8,679.9V695.9M127.8,687.9H143.8" stroke="#69B000" stroke-width="1.6"/>
<path d="M136.3,679.6V695.6M128.3,687.6H144.3" stroke="#69B000" stroke-width="1.6"/>
<path d="M137.3,679.1V695.1M129.3,687.1H145.3" stroke="#69B000" stroke-width="1.6"/>
<path d="M138.3,678.6V694.6M130.3,686.6H146.3" stroke="#69B000" stroke-width="1.6"/>
<path d="M140.8,674.4V690.4M132.8,682.4H148.8" stroke="#69B000" stroke-width="1.6"/>
<path d="M143.3,670.1V686.1M135.3,678.1H151.3" stroke="#69B000" stroke-width="1.6"/>
<path d="M148.3,655.3V671.3M140.3,663.3H156.3" stroke="#69B000" stroke-width="1.6"/>
<path d="M153.3,634.1V650.1M145.3,642.1H161.3" stroke="#69B000" stroke-width="1.6"/>
<path d="M158.3,617.1V633.1M150.3,625.1H166.3" stroke="#69B000" stroke-width="1.6"/>
<path d="M163.3,600.1V616.1M155.3,608.1H171.3" stroke="#69B000" stroke-width="1.6"/>
<path d="M173.3,587.8V603.8M165.3,595.8H181.3" stroke="#69B000" stroke-width="1.6"/>
<path d="M183.3,586.1V602.1M175.3,594.1H191.3" stroke="#69B000" stroke-width="1.6"/>
<path d="M208.3,584.4V600.4M200.3,592.4H216.3" stroke="#69B000" stroke-width="1.6"/>
<path d="M233.3,587.8V603.8M225.3,595.8H241.3" stroke="#69B000" stroke-width="1.6"/>
<path d="M283.2,599.7V615.7M275.2,607.7H291.2" stroke="#69B000" stroke-width="1.6"/>
<path d="M333.2,608.2V624.2M325.2,616.2H341.2" stroke="#69B000" stroke-width="1.6"/>
<path d="M383.2,614.6V630.6M375.2,622.6H391.2" stroke="#69B000" stroke-width="1.6"/>
<path d="M433.2,619.7V635.7M425.2,627.7H441.2" stroke="#69B000" stroke-width="1.6"/>
<path d="M533.2,625.2V641.2M525.2,633.2H541.2" stroke="#69B000" stroke-width="1.6"/>
<path d="M633.1,627.7V643.7M625.1,635.7H641.1" stroke="#69B000" stroke-width="1.6"/>
<path d="M883.0,626.0V642.0M875.0,634.0H891.0" stroke="#69B000" stroke-width="1.6"/>
<path d="M134.0,688.8 L134.3,688.6 L134.8,688.4 L135.3,688.1 L135.8,687.9 L136.3,687.6 L137.3,687.1 L138.3,686.6 L140.8,680.3 L143.3,673.9 L148.3,659.1 L153.3,633.6 L158.3,603.9 L163.3,582.7 L173.3,565.7 L183.3,561.0 L208.3,556.4 L233.3,562.7 L283.2,580.6 L333.2,589.9 L383.2,597.1 L433.2,602.6 L533.2,605.2 L633.1,603.5 L883.0,584.4" fill="none" stroke="#555555" stroke-width="3.6" stroke-linejoin="round"/>
<path d="M125.7,680.5L142.3,697.1M125.7,697.1L142.3,680.5" stroke="#555555" stroke-width="1.6"/>
<path d="M126.0,680.3L142.6,696.9M126.0,696.9L142.6,680.3" stroke="#555555" stroke-width="1.6"/>
<path d="M126.5,680.1L143.1,696.7M126.5,696.7L143.1,680.1" stroke="#555555" stroke-width="1.6"/>
<path d="M127.0,679.8L143.6,696.4M127.0,696.4L143.6,679.8" stroke="#555555" stroke-width="1.6"/>
<path d="M127.5,679.6L144.1,696.2M127.5,696.2L144.1,679.6" stroke="#555555" stroke-width="1.6"/>
<path d="M128.0,679.3L144.6,695.9M128.0,695.9L144.6,679.3" stroke="#555555" stroke-width="1.6"/>
<path d="M129.0,678.8L145.6,695.4M129.0,695.4L145.6,678.8" stroke="#555555" stroke-width="1.6"/>
<path d="M130.0,678.3L146.6,694.9M130.0,694.9L146.6,678.3" stroke="#555555" stroke-width="1.6"/>
<path d="M132.5,672.0L149.1,688.6M132.5,688.6L149.1,672.0" stroke="#555555" stroke-width="1.6"/>
<path d="M135.0,665.6L151.6,682.2M135.0,682.2L151.6,665.6" stroke="#555555" stroke-width="1.6"/>
<path d="M140.0,650.8L156.6,667.4M140.0,667.4L156.6,650.8" stroke="#555555" stroke-width="1.6"/>
<path d="M145.0,625.3L161.6,641.9M145.0,641.9L161.6,625.3" stroke="#555555" stroke-width="1.6"/>
<path d="M150.0,595.6L166.6,612.2M150.0,612.2L166.6,595.6" stroke="#555555" stroke-width="1.6"/>
<path d="M155.0,574.4L171.6,591.0M155.0,591.0L171.6,574.4" stroke="#555555" stroke-width="1.6"/>
<path d="M165.0,557.4L181.6,574.0M165.0,574.0L181.6,557.4" stroke="#555555" stroke-width="1.6"/>
<path d="M175.0,552.7L191.6,569.3M175.0,569.3L191.6,552.7" stroke="#555555" stroke-width="1.6"/>
<path d="M200.0,548.1L216.6,564.7M200.0,564.7L216.6,548.1" stroke="#555555" stroke-width="1.6"/>
<path d="M225.0,554.4L241.6,571.0M225.0,571.0L241.6,554.4" stroke="#555555" stroke-width="1.6"/>
<path d="M274.9,572.3L291.5,588.9M274.9,588.9L291.5,572.3" stroke="#555555" stroke-width="1.6"/>
<path d="M324.9,581.6L341.5,598.2M324.9,598.2L341.5,581.6" stroke="#555555" stroke-width="1.6"/>
<path d="M374.9,588.8L391.5,605.4M374.9,605.4L391.5,588.8" stroke="#555555" stroke-width="1.6"/>
<path d="M424.9,594.3L441.5,610.9M424.9,610.9L441.5,594.3" stroke="#555555" stroke-width="1.6"/>
<path d="M524.9,596.9L541.5,613.5M524.9,613.5L541.5,596.9" stroke="#555555" stroke-width="1.6"/>
<path d="M624.8,595.2L641.4,611.8M624.8,611.8L641.4,595.2" stroke="#555555" stroke-width="1.6"/>
<path d="M874.7,576.1L891.3,592.7M874.7,592.7L891.3,576.1" stroke="#555555" stroke-width="1.6"/>
<path d="M134.0,688.8 L134.3,688.6 L134.8,688.4 L135.3,688.1 L135.8,687.9 L136.3,687.6 L137.3,687.1 L138.3,686.6 L140.8,675.2 L143.3,674.8 L148.3,659.5 L153.3,619.6 L158.3,580.1 L163.3,557.2 L173.3,533.5 L183.3,527.9 L208.3,519.5 L233.3,529.2 L283.2,550.9 L333.2,561.0 L383.2,567.8 L433.2,575.0 L533.2,572.9 L633.1,562.3 L883.0,502.1" fill="none" stroke="#EE3030" stroke-width="3.6" stroke-linejoin="round"/>
<path d="M125.7,680.5L142.3,697.1M125.7,697.1L142.3,680.5M134.0,680.5V697.1M125.7,688.8H142.3" stroke="#EE3030" stroke-width="1.6"/>
<path d="M126.0,680.3L142.6,696.9M126.0,696.9L142.6,680.3M134.3,680.3V696.9M126.0,688.6H142.6" stroke="#EE3030" stroke-width="1.6"/>
<path d="M126.5,680.1L143.1,696.7M126.5,696.7L143.1,680.1M134.8,680.1V696.7M126.5,688.4H143.1" stroke="#EE3030" stroke-width="1.6"/>
<path d="M127.0,679.8L143.6,696.4M127.0,696.4L143.6,679.8M135.3,679.8V696.4M127.0,688.1H143.6" stroke="#EE3030" stroke-width="1.6"/>
<path d="M127.5,679.6L144.1,696.2M127.5,696.2L144.1,679.6M135.8,679.6V696.2M127.5,687.9H144.1" stroke="#EE3030" stroke-width="1.6"/>
<path d="M128.0,679.3L144.6,695.9M128.0,695.9L144.6,679.3M136.3,679.3V695.9M128.0,687.6H144.6" stroke="#EE3030" stroke-width="1.6"/>
<path d="M129.0,678.8L145.6,695.4M129.0,695.4L145.6,678.8M137.3,678.8V695.4M129.0,687.1H145.6" stroke="#EE3030" stroke-width="1.6"/>
<path d="M130.0,678.3L146.6,694.9M130.0,694.9L146.6,678.3M138.3,678.3V694.9M130.0,686.6H146.6" stroke="#EE3030" stroke-width="1.6"/>
<path d="M132.5,666.9L149.1,683.5M132.5,683.5L149.1,666.9M140.8,666.9V683.5M132.5,675.2H149.1" stroke="#EE3030" stroke-width="1.6"/>
<path d="M135.0,666.5L151.6,683.1M135.0,683.1L151.6,666.5M143.3,666.5V683.1M135.0,674.8H151.6" stroke="#EE3030" stroke-width="1.6"/>
<path d="M140.0,651.2L156.6,667.8M140.0,667.8L156.6,651.2M148.3,651.2V667.8M140.0,659.5H156.6" stroke="#EE3030" stroke-width="1.6"/>
<path d="M145.0,611.3L161.6,627.9M145.0,627.9L161.6,611.3M153.3,611.3V627.9M145.0,619.6H161.6" stroke="#EE3030" stroke-width="1.6"/>
<path d="M150.0,571.8L166.6,588.4M150.0,588.4L166.6,571.8M158.3,571.8V588.4M150.0,580.1H166.6" stroke="#EE3030" stroke-width="1.6"/>
<path d="M155.0,548.9L171.6,565.5M155.0,565.5L171.6,548.9M163.3,548.9V565.5M155.0,557.2H171.6" stroke="#EE3030" stroke-width="1.6"/>
<path d="M165.0,525.2L181.6,541.8M165.0,541.8L181.6,525.2M173.3,525.2V541.8M165.0,533.5H181.6" stroke="#EE3030" stroke-width="1.6"/>
<path d="M175.0,519.6L191.6,536.2M175.0,536.2L191.6,519.6M183.3,519.6V536.2M175.0,527.9H191.6" stroke="#EE3030" stroke-width="1.6"/>
<path d="M200.0,511.2L216.6,527.8M200.0,527.8L216.6,511.2M208.3,511.2V527.8M200.0,519.5H216.6" stroke="#EE3030" stroke-width="1.6"/>
<path d="M225.0,520.9L241.6,537.5M225.0,537.5L241.6,520.9M233.3,520.9V537.5M225.0,529.2H241.6" stroke="#EE3030" stroke-width="1.6"/>
<path d="M274.9,542.6L291.5,559.2M274.9,559.2L291.5,542.6M283.2,542.6V559.2M274.9,550.9H291.5" stroke="#EE3030" stroke-width="1.6"/>
<path d="M324.9,552.7L341.5,569.3M324.9,569.3L341.5,552.7M333.2,552.7V569.3M324.9,561.0H341.5" stroke="#EE3030" stroke-width="1.6"/>
<path d="M374.9,559.5L391.5,576.1M374.9,576.1L391.5,559.5M383.2,559.5V576.1M374.9,567.8H391.5" stroke="#EE3030" stroke-width="1.6"/>
<path d="M424.9,566.7L441.5,583.3M424.9,583.3L441.5,566.7M433.2,566.7V583.3M424.9,575.0H441.5" stroke="#EE3030" stroke-width="1.6"/>
<path d="M524.9,564.6L541.5,581.2M524.9,581.2L541.5,564.6M533.2,564.6V581.2M524.9,572.9H541.5" stroke="#EE3030" stroke-width="1.6"/>
<path d="M624.8,554.0L641.4,570.6M624.8,570.6L641.4,554.0M633.1,554.0V570.6M624.8,562.3H641.4" stroke="#EE3030" stroke-width="1.6"/>
<path d="M874.7,493.8L891.3,510.4M874.7,510.4L891.3,493.8M883.0,493.8V510.4M874.7,502.1H891.3" stroke="#EE3030" stroke-width="1.6"/>
<path d="M134.0,688.8 L134.3,688.7 L134.8,688.5 L135.3,688.3 L135.8,688.1 L136.3,687.9 L137.3,687.5 L138.3,687.1 L140.8,682.4 L143.3,675.2 L148.3,656.9 L153.3,608.6 L158.3,561.5 L163.3,536.4 L173.3,501.2 L183.3,496.1 L208.3,481.3 L233.3,492.7 L283.2,519.9 L333.2,530.1 L383.2,535.6 L433.2,543.2 L533.2,533.9 L633.1,509.3 L883.0,366.7" fill="none" stroke="#1162DD" stroke-width="3.6" stroke-linejoin="round"/>
<path d="M126.0,688.8H142.0" stroke="#1162DD" stroke-width="1.6"/>
<path d="M126.3,688.7H142.3" stroke="#1162DD" stroke-width="1.6"/>
<path d="M126.8,688.5H142.8" stroke="#1162DD" stroke-width="1.6"/>
<path d="M127.3,688.3H143.3" stroke="#1162DD" stroke-width="1.6"/>
<path d="M127.8,688.1H143.8" stroke="#1162DD" stroke-width="1.6"/>
<path d="M128.3,687.9H144.3" stroke="#1162DD" stroke-width="1.6"/>
<path d="M129.3,687.5H145.3" stroke="#1162DD" stroke-width="1.6"/>
<path d="M130.3,687.1H146.3" stroke="#1162DD" stroke-width="1.6"/>
<path d="M132.8,682.4H148.8" stroke="#1162DD" stroke-width="1.6"/>
<path d="M135.3,675.2H151.3" stroke="#1162DD" stroke-width="1.6"/>
<path d="M140.3,656.9H156.3" stroke="#1162DD" stroke-width="1.6"/>
<path d="M145.3,608.6H161.3" stroke="#1162DD" stroke-width="1.6"/>
<path d="M150.3,561.5H166.3" stroke="#1162DD" stroke-width="1.6"/>
<path d="M155.3,536.4H171.3" stroke="#1162DD" stroke-width="1.6"/>
<path d="M165.3,501.2H181.3" stroke="#1162DD" stroke-width="1.6"/>
<path d="M175.3,496.1H191.3" stroke="#1162DD" stroke-width="1.6"/>
<path d="M200.3,481.3H216.3" stroke="#1162DD" stroke-width="1.6"/>
<path d="M225.3,492.7H241.3" stroke="#1162DD" stroke-width="1.6"/>
<path d="M275.2,519.9H291.2" stroke="#1162DD" stroke-width="1.6"/>
<path d="M325.2,530.1H341.2" stroke="#1162DD" stroke-width="1.6"/>
<path d="M375.2,535.6H391.2" stroke="#1162DD" stroke-width="1.6"/>
<path d="M425.2,543.2H441.2" stroke="#1162DD" stroke-width="1.6"/>
<path d="M525.2,533.9H541.2" stroke="#1162DD" stroke-width="1.6"/>
<path d="M625.1,509.3H641.1" stroke="#1162DD" stroke-width="1.6"/>
<path d="M875.0,366.7H891.0" stroke="#1162DD" stroke-width="1.6"/>
<path d="M134.0,688.8 L134.3,688.7 L134.8,688.5 L135.3,688.3 L135.8,688.1 L136.3,687.9 L137.3,687.5 L138.3,687.1 L140.8,683.7 L143.3,676.0 L148.3,642.1 L153.3,591.2 L158.3,534.3 L163.3,502.9 L173.3,467.3 L183.3,459.6 L208.3,441.0 L233.3,454.1 L283.2,484.2 L333.2,493.1 L383.2,496.5 L433.2,502.1 L533.2,479.1 L633.1,430.8 L883.0,125.3" fill="none" stroke="#27A25C" stroke-width="3.6" stroke-linejoin="round"/>
<path d="M134.0,680.8V696.8" stroke="#27A25C" stroke-width="1.6"/>
<path d="M134.3,680.7V696.7" stroke="#27A25C" stroke-width="1.6"/>
<path d="M134.8,680.5V696.5" stroke="#27A25C" stroke-width="1.6"/>
<path d="M135.3,680.3V696.3" stroke="#27A25C" stroke-width="1.6"/>
<path d="M135.8,680.1V696.1" stroke="#27A25C" stroke-width="1.6"/>
<path d="M136.3,679.9V695.9" stroke="#27A25C" stroke-width="1.6"/>
<path d="M137.3,679.5V695.5" stroke="#27A25C" stroke-width="1.6"/>
<path d="M138.3,679.1V695.1" stroke="#27A25C" stroke-width="1.6"/>
<path d="M140.8,675.7V691.7" stroke="#27A25C" stroke-width="1.6"/>
<path d="M143.3,668.0V684.0" stroke="#27A25C" stroke-width="1.6"/>
<path d="M148.3,634.1V650.1" stroke="#27A25C" stroke-width="1.6"/>
<path d="M153.3,583.2V599.2" stroke="#27A25C" stroke-width="1.6"/>
<path d="M158.3,526.3V542.3" stroke="#27A25C" stroke-width="1.6"/>
<path d="M163.3,494.9V510.9" stroke="#27A25C" stroke-width="1.6"/>
<path d="M173.3,459.3V475.3" stroke="#27A25C" stroke-width="1.6"/>
<path d="M183.3,451.6V467.6" stroke="#27A25C" stroke-width="1.6"/>
<path d="M208.3,433.0V449.0" stroke="#27A25C" stroke-width="1.6"/>
<path d="M233.3,446.1V462.1" stroke="#27A25C" stroke-width="1.6"/>
<path d="M283.2,476.2V492.2" stroke="#27A25C" stroke-width="1.6"/>
<path d="M333.2,485.1V501.1" stroke="#27A25C" stroke-width="1.6"/>
<path d="M383.2,488.5V504.5" stroke="#27A25C" stroke-width="1.6"/>
<path d="M433.2,494.1V510.1" stroke="#27A25C" stroke-width="1.6"/>
<path d="M533.2,471.1V487.1" stroke="#27A25C" stroke-width="1.6"/>
<path d="M633.1,422.8V438.8" stroke="#27A25C" stroke-width="1.6"/>
<path d="M883.0,117.3V133.3" stroke="#27A25C" stroke-width="1.6"/>
</g>
<text x="120.0" y="703.0" font-family="'Liberation Sans', sans-serif" font-size="34" text-anchor="end">0</text>
<text x="120.0" y="618.1" font-family="'Liberation Sans', sans-serif" font-size="34" text-anchor="end">20</text>
<text x="120.0" y="533.2" font-family="'Liberation Sans', sans-serif" font-size="34" text-anchor="end">40</text>
<text x="120.0" y="448.4" font-family="'Liberation Sans', sans-serif" font-size="34" text-anchor="end">60</text>
<text x="120.0" y="363.5" font-family="'Liberation Sans', sans-serif" font-size="34" text-anchor="end">80</text>
<text x="120.0" y="278.7" font-family="'Liberation Sans', sans-serif" font-size="34" text-anchor="end">100</text>
<text x="120.0" y="193.8" font-family="'Liberation Sans', sans-serif" font-size="34" text-anchor="end">120</text>
<text x="120.0" y="108.9" font-family="'Liberation Sans', sans-serif" font-size="34" text-anchor="end">140</text>
<text x="120.0" y="24.1" font-family="'Liberation Sans', sans-serif" font-size="34" text-anchor="end">160</text>
<text x="133.3" y="733.3" font-family="'Liberation Sans', sans-serif" font-size="34" text-anchor="middle">0</text>
<text x="233.3" y="733.3" font-family="'Liberation Sans', sans-serif" font-size="34" text-anchor="middle">2</text>
<text x="333.2" y="733.3" font-family="'Liberation Sans', sans-serif" font-size="34" text-anchor="middle">4</text>
<text x="433.2" y="733.3" font-family="'Liberation Sans', sans-serif" font-size="34" text-anchor="middle">6</text>
<text x="533.2" y="733.3" font-family="'Liberation Sans', sans-serif" font-size="34" text-anchor="middle">8</text>
<text x="633.1" y="733.3" font-family="'Liberation Sans', sans-serif" font-size="34" text-anchor="middle">10</text>
<text x="733.1" y="733.3" font-family="'Liberation Sans', sans-serif" font-size="34" text-anchor="middle">12</text>
<text x="833.0" y="733.3" font-family="'Liberation Sans', sans-serif" font-size="34" text-anchor="middle">14</text>
<text x="933.0" y="733.3" font-family="'Liberation Sans', sans-serif" font-size="34" text-anchor="middle">16</text>
<path d="M453.7,38.2H501.6" stroke="#555555" stroke-width="3.4" stroke-linecap="round"/>
<rect x="470.4" y="31.2" width="14.0" height="14.0" fill="#636363" stroke="#555555" stroke-width="1"/>
<text x="507" y="45.0" font-family="'Liberation Serif', serif" font-size="20">0.5</text>
<path d="M453.7,64.8H501.6" stroke="#EE3030" stroke-width="3.4" stroke-linecap="round"/>
<circle cx="477.4" cy="64.8" r="7.7" fill="#F14040" stroke="#EE3030" stroke-width="1"/>
<text x="507" y="71.5" font-family="'Liberation Serif', serif" font-size="20">1</text>
<path d="M453.7,91.3H501.6" stroke="#1162DD" stroke-width="3.4" stroke-linecap="round"/>
<path d="M477.4,81.3L486.7,96.7L468.1,96.7Z" fill="#1A6FDF" stroke="#1162DD" stroke-width="1"/>
<text x="507" y="98.1" font-family="'Liberation Serif', serif" font-size="20">2</text>
<path d="M453.7,117.9H501.6" stroke="#27A25C" stroke-width="3.4" stroke-linecap="round"/>
<path d="M477.4,128.4L486.7,112.7L468.1,112.7Z" fill="#37AD6B" stroke="#27A25C" stroke-width="1"/>
<text x="507" y="124.7" font-family="'Liberation Serif', serif" font-size="20">3</text>
<path d="M453.7,144.5H501.6" stroke="#A96ADD" stroke-width="3.4" stroke-linecap="round"/>
<path d="M477.4,135.1L486.0,144.5L477.4,153.9L468.8,144.5Z" fill="#B177DE" stroke="#A96ADD" stroke-width="1"/>
<text x="507" y="151.2" font-family="'Liberation Serif', serif" font-size="20">4</text>
<path d="M453.7,171.1H501.6" stroke="#C99300" stroke-width="3.4" stroke-linecap="round"/>
<path d="M468.9,171.1L482.9,161.6L482.9,180.6Z" fill="#CC9900" stroke="#C99300" stroke-width="1"/>
<text x="507" y="177.8" font-family="'Liberation Serif', serif" font-size="20">5</text>
<path d="M453.7,197.6H501.6" stroke="#00C6C8" stroke-width="3.4" stroke-linecap="round"/>
<path d="M486.2,197.6L471.9,188.1L471.9,207.1Z" fill="#00CBCC" stroke="#00C6C8" stroke-width="1"/>
<text x="507" y="204.4" font-family="'Liberation Serif', serif" font-size="20">6</text>
<path d="M453.7,224.2H501.6" stroke="#774646" stroke-width="3.4" stroke-linecap="round"/>
<polygon points="477.4,215.4 469.8,219.8 469.8,228.6 477.4,233.0 485.0,228.6 485.0,219.8" fill="#7D4E4E" stroke="#774646" stroke-width="1"/>
<text x="507" y="230.9" font-family="'Liberation Serif', serif" font-size="20">7</text>
<path d="M453.7,250.8H501.6" stroke="#878700" stroke-width="3.4" stroke-linecap="round"/>
<polygon points="477.4,241.8 474.6,247.9 467.9,248.7 472.8,253.2 471.5,259.9 477.4,256.6 483.3,259.9 482.0,253.2 486.9,248.7 480.2,247.9" fill="#8E8E00" stroke="#878700" stroke-width="1"/>
<text x="507" y="257.5" font-family="'Liberation Serif', serif" font-size="20">8</text>
<path d="M453.7,277.3H501.6" stroke="#FA5C00" stroke-width="3.4" stroke-linecap="round"/>
<polygon points="477.4,269.0 468.6,275.5 471.9,285.9 482.9,285.9 486.2,275.5" fill="#FB6501" stroke="#FA5C00" stroke-width="1"/>
<text x="507" y="284.1" font-family="'Liberation Serif', serif" font-size="20">10</text>
<path d="M453.7,303.9H501.6" stroke="#5C90C8" stroke-width="3.4" stroke-linecap="round"/>
<circle cx="477.4" cy="303.9" r="8.0" fill="url(#sph)"/>
<text x="507" y="310.7" font-family="'Liberation Serif', serif" font-size="20">15</text>
<path d="M453.7,330.5H501.6" stroke="#69B000" stroke-width="3.4" stroke-linecap="round"/>
<path d="M477.4,322.5V338.5M469.4,330.5H485.4" stroke="#69B000" stroke-width="1.6"/>
<text x="507" y="337.2" font-family="'Liberation Serif', serif" font-size="20">20</text>
<path d="M453.7,357.0H501.6" stroke="#555555" stroke-width="3.4" stroke-linecap="round"/>
<path d="M469.1,348.7L485.7,365.3M469.1,365.3L485.7,348.7" stroke="#555555" stroke-width="1.6"/>
<text x="507" y="363.8" font-family="'Liberation Serif', serif" font-size="20">25</text>
<path d="M453.7,383.6H501.6" stroke="#EE3030" stroke-width="3.4" stroke-linecap="round"/>
<path d="M469.1,375.3L485.7,391.9M469.1,391.9L485.7,375.3M477.4,375.3V391.9M469.1,383.6H485.7" stroke="#EE3030" stroke-width="1.6"/>
<text x="507" y="390.4" font-family="'Liberation Serif', serif" font-size="20">30</text>
<path d="M453.7,410.2H501.6" stroke="#1162DD" stroke-width="3.4" stroke-linecap="round"/>
<path d="M469.4,410.2H485.4" stroke="#1162DD" stroke-width="1.6"/>
<text x="507" y="416.9" font-family="'Liberation Serif', serif" font-size="20">35</text>
<path d="M453.7,436.8H501.6" stroke="#27A25C" stroke-width="3.4" stroke-linecap="round"/>
<path d="M477.4,428.8V444.8" stroke="#27A25C" stroke-width="1.6"/>
<text x="507" y="443.5" font-family="'Liberation Serif', serif" font-size="20">40</text>
<text x="180" y="134.7" font-family="'Liberation Serif', serif" font-size="33.3">BaBMgF-Cu5</text>
<text x="167.5" y="67.8" font-family="'Liberation Serif', serif" font-size="35.5">(a)</text>
<text transform="translate(49.5,354.3) rotate(-90)" font-family="'Liberation Serif', serif" font-size="37" text-anchor="middle">EBF</text>
<text x="447" y="778.7" font-family="'Liberation Serif', serif" font-size="37">Energy (MeV)</text>
<clipPath id="cb"><rect x="103.40" y="863.80" width="847.00" height="730.60"/></clipPath>
<rect x="103.4" y="863.8" width="847.0" height="730.6" fill="none" stroke="#000" stroke-width="3.9"/>
<path d="M103.4,1521.3H110.6" stroke="#000" stroke-width="3.5"/>
<path d="M103.4,1448.3H117.2" stroke="#000" stroke-width="3.5"/>
<path d="M103.4,1375.2H110.6" stroke="#000" stroke-width="3.5"/>
<path d="M103.4,1302.2H117.2" stroke="#000" stroke-width="3.5"/>
<path d="M103.4,1229.1H110.6" stroke="#000" stroke-width="3.5"/>
<path d="M103.4,1156.0H117.2" stroke="#000" stroke-width="3.5"/>
<path d="M103.4,1083.0H110.6" stroke="#000" stroke-width="3.5"/>
<path d="M103.4,1009.9H117.2" stroke="#000" stroke-width="3.5"/>
<path d="M103.4,936.9H110.6" stroke="#000" stroke-width="3.5"/>
<path d="M156.3,1594.4V1587.2" stroke="#000" stroke-width="3.5"/>
<path d="M209.3,1594.4V1580.6" stroke="#000" stroke-width="3.5"/>
<path d="M262.2,1594.4V1587.2" stroke="#000" stroke-width="3.5"/>
<path d="M315.1,1594.4V1580.6" stroke="#000" stroke-width="3.5"/>
<path d="M368.1,1594.4V1587.2" stroke="#000" stroke-width="3.5"/>
<path d="M421.0,1594.4V1580.6" stroke="#000" stroke-width="3.5"/>
<path d="M474.0,1594.4V1587.2" stroke="#000" stroke-width="3.5"/>
<path d="M526.9,1594.4V1580.6" stroke="#000" stroke-width="3.5"/>
<path d="M579.8,1594.4V1587.2" stroke="#000" stroke-width="3.5"/>
<path d="M632.8,1594.4V1580.6" stroke="#000" stroke-width="3.5"/>
<path d="M685.7,1594.4V1587.2" stroke="#000" stroke-width="3.5"/>
<path d="M738.6,1594.4V1580.6" stroke="#000" stroke-width="3.5"/>
<path d="M791.6,1594.4V1587.2" stroke="#000" stroke-width="3.5"/>
<path d="M844.5,1594.4V1580.6" stroke="#000" stroke-width="3.5"/>
<path d="M897.5,1594.4V1587.2" stroke="#000" stroke-width="3.5"/>
<g clip-path="url(#cb)">
<path d="M104.2,1587.1 L104.5,1587.1 L105.0,1587.0 L105.5,1587.0 L106.0,1587.0 L106.6,1587.0 L107.6,1586.9 L108.7,1586.7 L111.3,1586.0 L114.0,1585.2 L119.3,1583.6 L124.6,1583.2 L129.9,1583.0 L135.2,1583.0 L145.8,1583.0 L156.3,1583.1 L182.8,1583.7 L209.3,1584.1 L262.2,1584.8 L315.1,1585.3 L368.1,1585.6 L421.0,1585.9 L526.9,1586.1 L632.8,1586.3 L897.5,1586.6" fill="none" stroke="#555555" stroke-width="3.6" stroke-linejoin="round"/>
<rect x="96.8" y="1579.7" width="14.8" height="14.8" fill="#636363" stroke="#555555" stroke-width="1"/>
<rect x="97.0" y="1579.6" width="14.8" height="14.8" fill="#636363" stroke="#555555" stroke-width="1"/>
<rect x="97.6" y="1579.6" width="14.8" height="14.8" fill="#636363" stroke="#555555" stroke-width="1"/>
<rect x="98.1" y="1579.6" width="14.8" height="14.8" fill="#636363" stroke="#555555" stroke-width="1"/>
<rect x="98.6" y="1579.6" width="14.8" height="14.8" fill="#636363" stroke="#555555" stroke-width="1"/>
<rect x="99.2" y="1579.5" width="14.8" height="14.8" fill="#636363" stroke="#555555" stroke-width="1"/>
<rect x="100.2" y="1579.4" width="14.8" height="14.8" fill="#636363" stroke="#555555" stroke-width="1"/>
<rect x="101.3" y="1579.3" width="14.8" height="14.8" fill="#636363" stroke="#555555" stroke-width="1"/>
<rect x="103.9" y="1578.6" width="14.8" height="14.8" fill="#636363" stroke="#555555" stroke-width="1"/>
<rect x="106.6" y="1577.8" width="14.8" height="14.8" fill="#636363" stroke="#555555" stroke-width="1"/>
<rect x="111.9" y="1576.2" width="14.8" height="14.8" fill="#636363" stroke="#555555" stroke-width="1"/>
<rect x="117.2" y="1575.7" width="14.8" height="14.8" fill="#636363" stroke="#555555" stroke-width="1"/>
<rect x="122.4" y="1575.6" width="14.8" height="14.8" fill="#636363" stroke="#555555" stroke-width="1"/>
<rect x="127.7" y="1575.6" width="14.8" height="14.8" fill="#636363" stroke="#555555" stroke-width="1"/>
<rect x="138.3" y="1575.6" width="14.8" height="14.8" fill="#636363" stroke="#555555" stroke-width="1"/>
<rect x="148.9" y="1575.7" width="14.8" height="14.8" fill="#636363" stroke="#555555" stroke-width="1"/>
<rect x="175.4" y="1576.3" width="14.8" height="14.8" fill="#636363" stroke="#555555" stroke-width="1"/>
<rect x="201.9" y="1576.7" width="14.8" height="14.8" fill="#636363" stroke="#555555" stroke-width="1"/>
<rect x="254.8" y="1577.4" width="14.8" height="14.8" fill="#636363" stroke="#555555" stroke-width="1"/>
<rect x="307.7" y="1577.9" width="14.8" height="14.8" fill="#636363" stroke="#555555" stroke-width="1"/>
<rect x="360.7" y="1578.2" width="14.8" height="14.8" fill="#636363" stroke="#555555" stroke-width="1"/>
<rect x="413.6" y="1578.5" width="14.8" height="14.8" fill="#636363" stroke="#555555" stroke-width="1"/>
<rect x="519.5" y="1578.7" width="14.8" height="14.8" fill="#636363" stroke="#555555" stroke-width="1"/>
<rect x="625.4" y="1578.9" width="14.8" height="14.8" fill="#636363" stroke="#555555" stroke-width="1"/>
<rect x="890.0" y="1579.1" width="14.8" height="14.8" fill="#636363" stroke="#555555" stroke-width="1"/>
<path d="M104.2,1587.1 L104.5,1587.0 L105.0,1587.0 L105.5,1586.9 L106.0,1586.9 L106.6,1586.8 L107.6,1586.6 L108.7,1586.3 L111.3,1584.9 L114.0,1583.2 L119.3,1579.7 L124.6,1578.7 L129.9,1578.4 L135.2,1578.4 L145.8,1578.4 L156.3,1578.6 L182.8,1579.8 L209.3,1580.8 L262.2,1582.2 L315.1,1583.3 L368.1,1584.0 L421.0,1584.5 L526.9,1585.1 L632.8,1585.4 L897.5,1585.9" fill="none" stroke="#EE3030" stroke-width="3.6" stroke-linejoin="round"/>
<circle cx="104.2" cy="1587.1" r="8.2" fill="#F14040" stroke="#EE3030" stroke-width="1"/>
<circle cx="104.5" cy="1587.0" r="8.2" fill="#F14040" stroke="#EE3030" stroke-width="1"/>
<circle cx="105.0" cy="1587.0" r="8.2" fill="#F14040" stroke="#EE3030" stroke-width="1"/>
<circle cx="105.5" cy="1586.9" r="8.2" fill="#F14040" stroke="#EE3030" stroke-width="1"/>
<circle cx="106.0" cy="1586.9" r="8.2" fill="#F14040" stroke="#EE3030" stroke-width="1"/>
<circle cx="106.6" cy="1586.8" r="8.2" fill="#F14040" stroke="#EE3030" stroke-width="1"/>
<circle cx="107.6" cy="1586.6" r="8.2" fill="#F14040" stroke="#EE3030" stroke-width="1"/>
<circle cx="108.7" cy="1586.3" r="8.2" fill="#F14040" stroke="#EE3030" stroke-width="1"/>
<circle cx="111.3" cy="1584.9" r="8.2" fill="#F14040" stroke="#EE3030" stroke-width="1"/>
<circle cx="114.0" cy="1583.2" r="8.2" fill="#F14040" stroke="#EE3030" stroke-width="1"/>
<circle cx="119.3" cy="1579.7" r="8.2" fill="#F14040" stroke="#EE3030" stroke-width="1"/>
<circle cx="124.6" cy="1578.7" r="8.2" fill="#F14040" stroke="#EE3030" stroke-width="1"/>
<circle cx="129.9" cy="1578.4" r="8.2" fill="#F14040" stroke="#EE3030" stroke-width="1"/>
<circle cx="135.2" cy="1578.4" r="8.2" fill="#F14040" stroke="#EE3030" stroke-width="1"/>
<circle cx="145.8" cy="1578.4" r="8.2" fill="#F14040" stroke="#EE3030" stroke-width="1"/>
<circle cx="156.3" cy="1578.6" r="8.2" fill="#F14040" stroke="#EE3030" stroke-width="1"/>
<circle cx="182.8" cy="1579.8" r="8.2" fill="#F14040" stroke="#EE3030" stroke-width="1"/>
<circle cx="209.3" cy="1580.8" r="8.2" fill="#F14040" stroke="#EE3030" stroke-width="1"/>
<circle cx="262.2" cy="1582.2" r="8.2" fill="#F14040" stroke="#EE3030" stroke-width="1"/>
<circle cx="315.1" cy="1583.3" r="8.2" fill="#F14040" stroke="#EE3030" stroke-width="1"/>
<circle cx="368.1" cy="1584.0" r="8.2" fill="#F14040" stroke="#EE3030" stroke-width="1"/>
<circle cx="421.0" cy="1584.5" r="8.2" fill="#F14040" stroke="#EE3030" stroke-width="1"/>
<circle cx="526.9" cy="1585.1" r="8.2" fill="#F14040" stroke="#EE3030" stroke-width="1"/>
<circle cx="632.8" cy="1585.4" r="8.2" fill="#F14040" stroke="#EE3030" stroke-width="1"/>
<circle cx="897.5" cy="1585.9" r="8.2" fill="#F14040" stroke="#EE3030" stroke-width="1"/>
<path d="M104.2,1587.0 L104.5,1587.0 L105.0,1586.9 L105.5,1586.8 L106.0,1586.7 L106.6,1586.6 L107.6,1586.1 L108.7,1585.5 L111.3,1582.9 L114.0,1579.5 L119.3,1571.9 L124.6,1569.3 L129.9,1568.4 L135.2,1568.4 L145.8,1568.4 L156.3,1568.8 L182.8,1571.4 L209.3,1573.5 L262.2,1576.6 L315.1,1579.0 L368.1,1580.4 L421.0,1581.5 L526.9,1582.7 L632.8,1583.5 L897.5,1584.6" fill="none" stroke="#1162DD" stroke-width="3.6" stroke-linejoin="round"/>
<path d="M104.2,1576.4L114.1,1592.8L94.3,1592.8Z" fill="#1A6FDF" stroke="#1162DD" stroke-width="1"/>
<path d="M104.5,1576.4L114.3,1592.7L94.6,1592.7Z" fill="#1A6FDF" stroke="#1162DD" stroke-width="1"/>
<path d="M105.0,1576.3L114.8,1592.6L95.1,1592.6Z" fill="#1A6FDF" stroke="#1162DD" stroke-width="1"/>
<path d="M105.5,1576.2L115.4,1592.5L95.7,1592.5Z" fill="#1A6FDF" stroke="#1162DD" stroke-width="1"/>
<path d="M106.0,1576.1L115.9,1592.4L96.2,1592.4Z" fill="#1A6FDF" stroke="#1162DD" stroke-width="1"/>
<path d="M106.6,1576.0L116.4,1592.3L96.7,1592.3Z" fill="#1A6FDF" stroke="#1162DD" stroke-width="1"/>
<path d="M107.6,1575.5L117.5,1591.9L97.8,1591.9Z" fill="#1A6FDF" stroke="#1162DD" stroke-width="1"/>
<path d="M108.7,1574.9L118.6,1591.2L98.8,1591.2Z" fill="#1A6FDF" stroke="#1162DD" stroke-width="1"/>
<path d="M111.3,1572.3L121.2,1588.6L101.5,1588.6Z" fill="#1A6FDF" stroke="#1162DD" stroke-width="1"/>
<path d="M114.0,1568.9L123.8,1585.2L104.1,1585.2Z" fill="#1A6FDF" stroke="#1162DD" stroke-width="1"/>
<path d="M119.3,1561.3L129.1,1577.6L109.4,1577.6Z" fill="#1A6FDF" stroke="#1162DD" stroke-width="1"/>
<path d="M124.6,1558.7L134.4,1575.1L114.7,1575.1Z" fill="#1A6FDF" stroke="#1162DD" stroke-width="1"/>
<path d="M129.9,1557.8L139.7,1574.2L120.0,1574.2Z" fill="#1A6FDF" stroke="#1162DD" stroke-width="1"/>
<path d="M135.2,1557.8L145.0,1574.2L125.3,1574.2Z" fill="#1A6FDF" stroke="#1162DD" stroke-width="1"/>
<path d="M145.8,1557.8L155.6,1574.2L135.9,1574.2Z" fill="#1A6FDF" stroke="#1162DD" stroke-width="1"/>
<path d="M156.3,1558.2L166.2,1574.5L146.5,1574.5Z" fill="#1A6FDF" stroke="#1162DD" stroke-width="1"/>
<path d="M182.8,1560.8L192.7,1577.1L172.9,1577.1Z" fill="#1A6FDF" stroke="#1162DD" stroke-width="1"/>
<path d="M209.3,1562.9L219.1,1579.3L199.4,1579.3Z" fill="#1A6FDF" stroke="#1162DD" stroke-width="1"/>
<path d="M262.2,1566.0L272.1,1582.4L252.4,1582.4Z" fill="#1A6FDF" stroke="#1162DD" stroke-width="1"/>
<path d="M315.1,1568.4L325.0,1584.7L305.3,1584.7Z" fill="#1A6FDF" stroke="#1162DD" stroke-width="1"/>
<path d="M368.1,1569.8L377.9,1586.1L358.2,1586.1Z" fill="#1A6FDF" stroke="#1162DD" stroke-width="1"/>
<path d="M421.0,1570.9L430.9,1587.2L411.2,1587.2Z" fill="#1A6FDF" stroke="#1162DD" stroke-width="1"/>
<path d="M526.9,1572.1L536.8,1588.5L517.0,1588.5Z" fill="#1A6FDF" stroke="#1162DD" stroke-width="1"/>
<path d="M632.8,1572.9L642.6,1589.2L622.9,1589.2Z" fill="#1A6FDF" stroke="#1162DD" stroke-width="1"/>
<path d="M897.5,1574.0L907.3,1590.3L887.6,1590.3Z" fill="#1A6FDF" stroke="#1162DD" stroke-width="1"/>
<path d="M104.2,1587.0 L104.5,1586.9 L105.0,1586.8 L105.5,1586.7 L106.0,1586.5 L106.6,1586.4 L107.6,1585.7 L108.7,1584.9 L111.3,1581.2 L114.0,1576.4 L119.3,1565.0 L124.6,1559.7 L129.9,1558.1 L135.2,1557.9 L145.8,1557.9 L156.3,1558.5 L182.8,1562.6 L209.3,1565.9 L262.2,1570.8 L315.1,1574.5 L368.1,1576.6 L421.0,1578.3 L526.9,1580.3 L632.8,1581.5 L897.5,1583.2" fill="none" stroke="#27A25C" stroke-width="3.6" stroke-linejoin="round"/>
<path d="M104.2,1598.1L114.1,1581.5L94.3,1581.5Z" fill="#37AD6B" stroke="#27A25C" stroke-width="1"/>
<path d="M104.5,1598.1L114.3,1581.4L94.6,1581.4Z" fill="#37AD6B" stroke="#27A25C" stroke-width="1"/>
<path d="M105.0,1597.9L114.8,1581.3L95.1,1581.3Z" fill="#37AD6B" stroke="#27A25C" stroke-width="1"/>
<path d="M105.5,1597.8L115.4,1581.1L95.7,1581.1Z" fill="#37AD6B" stroke="#27A25C" stroke-width="1"/>
<path d="M106.0,1597.6L115.9,1581.0L96.2,1581.0Z" fill="#37AD6B" stroke="#27A25C" stroke-width="1"/>
<path d="M106.6,1597.5L116.4,1580.9L96.7,1580.9Z" fill="#37AD6B" stroke="#27A25C" stroke-width="1"/>
<path d="M107.6,1596.9L117.5,1580.2L97.8,1580.2Z" fill="#37AD6B" stroke="#27A25C" stroke-width="1"/>
<path d="M108.7,1596.0L118.6,1579.4L98.8,1579.4Z" fill="#37AD6B" stroke="#27A25C" stroke-width="1"/>
<path d="M111.3,1592.4L121.2,1575.7L101.5,1575.7Z" fill="#37AD6B" stroke="#27A25C" stroke-width="1"/>
<path d="M114.0,1587.6L123.8,1570.9L104.1,1570.9Z" fill="#37AD6B" stroke="#27A25C" stroke-width="1"/>
<path d="M119.3,1576.1L129.1,1559.5L109.4,1559.5Z" fill="#37AD6B" stroke="#27A25C" stroke-width="1"/>
<path d="M124.6,1570.8L134.4,1554.1L114.7,1554.1Z" fill="#37AD6B" stroke="#27A25C" stroke-width="1"/>
<path d="M129.9,1569.3L139.7,1552.6L120.0,1552.6Z" fill="#37AD6B" stroke="#27A25C" stroke-width="1"/>
<path d="M135.2,1569.1L145.0,1552.4L125.3,1552.4Z" fill="#37AD6B" stroke="#27A25C" stroke-width="1"/>
<path d="M145.8,1569.1L155.6,1552.4L135.9,1552.4Z" fill="#37AD6B" stroke="#27A25C" stroke-width="1"/>
<path d="M156.3,1569.7L166.2,1553.0L146.5,1553.0Z" fill="#37AD6B" stroke="#27A25C" stroke-width="1"/>
<path d="M182.8,1573.7L192.7,1557.1L172.9,1557.1Z" fill="#37AD6B" stroke="#27A25C" stroke-width="1"/>
<path d="M209.3,1577.0L219.1,1560.4L199.4,1560.4Z" fill="#37AD6B" stroke="#27A25C" stroke-width="1"/>
<path d="M262.2,1581.9L272.1,1565.3L252.4,1565.3Z" fill="#37AD6B" stroke="#27A25C" stroke-width="1"/>
<path d="M315.1,1585.6L325.0,1569.0L305.3,1569.0Z" fill="#37AD6B" stroke="#27A25C" stroke-width="1"/>
<path d="M368.1,1587.7L377.9,1571.1L358.2,1571.1Z" fill="#37AD6B" stroke="#27A25C" stroke-width="1"/>
<path d="M421.0,1589.5L430.9,1572.8L411.2,1572.8Z" fill="#37AD6B" stroke="#27A25C" stroke-width="1"/>
<path d="M526.9,1591.4L536.8,1574.8L517.0,1574.8Z" fill="#37AD6B" stroke="#27A25C" stroke-width="1"/>
<path d="M632.8,1592.6L642.6,1575.9L622.9,1575.9Z" fill="#37AD6B" stroke="#27A25C" stroke-width="1"/>
<path d="M897.5,1594.3L907.3,1577.7L887.6,1577.7Z" fill="#37AD6B" stroke="#27A25C" stroke-width="1"/>
<path d="M104.2,1587.0 L104.5,1586.9 L105.0,1586.7 L105.5,1586.5 L106.0,1586.4 L106.6,1586.2 L107.6,1585.4 L108.7,1584.5 L111.3,1580.0 L114.0,1574.1 L119.3,1559.0 L124.6,1550.1 L129.9,1547.9 L135.2,1547.1 L145.8,1547.1 L156.3,1547.9 L182.8,1553.5 L209.3,1558.0 L262.2,1564.7 L315.1,1569.8 L368.1,1572.7 L421.0,1575.1 L526.9,1577.8 L632.8,1579.4 L897.5,1581.8" fill="none" stroke="#A96ADD" stroke-width="3.6" stroke-linejoin="round"/>
<path d="M104.2,1577.0L113.3,1587.0L104.2,1597.0L95.1,1587.0Z" fill="#B177DE" stroke="#A96ADD" stroke-width="1"/>
<path d="M104.5,1576.9L113.6,1586.9L104.5,1596.9L95.3,1586.9Z" fill="#B177DE" stroke="#A96ADD" stroke-width="1"/>
<path d="M105.0,1576.8L114.1,1586.7L105.0,1596.7L95.9,1586.7Z" fill="#B177DE" stroke="#A96ADD" stroke-width="1"/>
<path d="M105.5,1576.6L114.6,1586.5L105.5,1596.5L96.4,1586.5Z" fill="#B177DE" stroke="#A96ADD" stroke-width="1"/>
<path d="M106.0,1576.4L115.2,1586.4L106.0,1596.3L96.9,1586.4Z" fill="#B177DE" stroke="#A96ADD" stroke-width="1"/>
<path d="M106.6,1576.2L115.7,1586.2L106.6,1596.1L97.5,1586.2Z" fill="#B177DE" stroke="#A96ADD" stroke-width="1"/>
<path d="M107.6,1575.5L116.8,1585.4L107.6,1595.4L98.5,1585.4Z" fill="#B177DE" stroke="#A96ADD" stroke-width="1"/>
<path d="M108.7,1574.5L117.8,1584.5L108.7,1594.5L99.6,1584.5Z" fill="#B177DE" stroke="#A96ADD" stroke-width="1"/>
<path d="M111.3,1570.0L120.5,1580.0L111.3,1590.0L102.2,1580.0Z" fill="#B177DE" stroke="#A96ADD" stroke-width="1"/>
<path d="M114.0,1564.1L123.1,1574.1L114.0,1584.0L104.9,1574.1Z" fill="#B177DE" stroke="#A96ADD" stroke-width="1"/>
<path d="M119.3,1549.0L128.4,1559.0L119.3,1569.0L110.2,1559.0Z" fill="#B177DE" stroke="#A96ADD" stroke-width="1"/>
<path d="M124.6,1540.1L133.7,1550.1L124.6,1560.0L115.5,1550.1Z" fill="#B177DE" stroke="#A96ADD" stroke-width="1"/>
<path d="M129.9,1537.9L139.0,1547.9L129.9,1557.9L120.8,1547.9Z" fill="#B177DE" stroke="#A96ADD" stroke-width="1"/>
<path d="M135.2,1537.1L144.3,1547.1L135.2,1557.1L126.0,1547.1Z" fill="#B177DE" stroke="#A96ADD" stroke-width="1"/>
<path d="M145.8,1537.1L154.9,1547.1L145.8,1557.1L136.6,1547.1Z" fill="#B177DE" stroke="#A96ADD" stroke-width="1"/>
<path d="M156.3,1537.9L165.5,1547.9L156.3,1557.9L147.2,1547.9Z" fill="#B177DE" stroke="#A96ADD" stroke-width="1"/>
<path d="M182.8,1543.5L191.9,1553.5L182.8,1563.5L173.7,1553.5Z" fill="#B177DE" stroke="#A96ADD" stroke-width="1"/>
<path d="M209.3,1548.1L218.4,1558.0L209.3,1568.0L200.2,1558.0Z" fill="#B177DE" stroke="#A96ADD" stroke-width="1"/>
<path d="M262.2,1554.7L271.3,1564.7L262.2,1574.7L253.1,1564.7Z" fill="#B177DE" stroke="#A96ADD" stroke-width="1"/>
<path d="M315.1,1559.8L324.3,1569.8L315.1,1579.7L306.0,1569.8Z" fill="#B177DE" stroke="#A96ADD" stroke-width="1"/>
<path d="M368.1,1562.7L377.2,1572.7L368.1,1582.7L359.0,1572.7Z" fill="#B177DE" stroke="#A96ADD" stroke-width="1"/>
<path d="M421.0,1565.1L430.1,1575.1L421.0,1585.1L411.9,1575.1Z" fill="#B177DE" stroke="#A96ADD" stroke-width="1"/>
<path d="M526.9,1567.8L536.0,1577.8L526.9,1587.7L517.8,1577.8Z" fill="#B177DE" stroke="#A96ADD" stroke-width="1"/>
<path d="M632.8,1569.4L641.9,1579.4L632.8,1589.3L623.7,1579.4Z" fill="#B177DE" stroke="#A96ADD" stroke-width="1"/>
<path d="M897.5,1571.8L906.6,1581.8L897.5,1591.7L888.3,1581.8Z" fill="#B177DE" stroke="#A96ADD" stroke-width="1"/>
<path d="M104.2,1587.0 L104.5,1586.9 L105.0,1586.7 L105.5,1586.4 L106.0,1586.2 L106.6,1586.0 L107.6,1585.2 L108.7,1584.1 L111.3,1579.3 L114.0,1572.1 L119.3,1554.0 L124.6,1541.4 L129.9,1537.7 L135.2,1536.0 L145.8,1536.0 L156.3,1537.0 L182.8,1544.1 L209.3,1549.9 L262.2,1558.5 L315.1,1564.9 L368.1,1568.7 L421.0,1571.8 L526.9,1575.2 L632.8,1577.2 L897.5,1580.3" fill="none" stroke="#C99300" stroke-width="3.6" stroke-linejoin="round"/>
<path d="M95.2,1587.0L110.0,1576.9L110.0,1597.1Z" fill="#CC9900" stroke="#C99300" stroke-width="1"/>
<path d="M95.4,1586.9L110.3,1576.8L110.3,1597.0Z" fill="#CC9900" stroke="#C99300" stroke-width="1"/>
<path d="M96.0,1586.7L110.8,1576.6L110.8,1596.7Z" fill="#CC9900" stroke="#C99300" stroke-width="1"/>
<path d="M96.5,1586.4L111.3,1576.4L111.3,1596.5Z" fill="#CC9900" stroke="#C99300" stroke-width="1"/>
<path d="M97.0,1586.2L111.9,1576.1L111.9,1596.3Z" fill="#CC9900" stroke="#C99300" stroke-width="1"/>
<path d="M97.6,1586.0L112.4,1575.9L112.4,1596.1Z" fill="#CC9900" stroke="#C99300" stroke-width="1"/>
<path d="M98.6,1585.2L113.5,1575.2L113.5,1595.3Z" fill="#CC9900" stroke="#C99300" stroke-width="1"/>
<path d="M99.7,1584.1L114.5,1574.0L114.5,1594.2Z" fill="#CC9900" stroke="#C99300" stroke-width="1"/>
<path d="M102.3,1579.3L117.2,1569.2L117.2,1589.3Z" fill="#CC9900" stroke="#C99300" stroke-width="1"/>
<path d="M105.0,1572.1L119.8,1562.0L119.8,1582.2Z" fill="#CC9900" stroke="#C99300" stroke-width="1"/>
<path d="M110.3,1554.0L125.1,1544.0L125.1,1564.1Z" fill="#CC9900" stroke="#C99300" stroke-width="1"/>
<path d="M115.6,1541.4L130.4,1531.4L130.4,1551.5Z" fill="#CC9900" stroke="#C99300" stroke-width="1"/>
<path d="M120.9,1537.7L135.7,1527.6L135.7,1547.7Z" fill="#CC9900" stroke="#C99300" stroke-width="1"/>
<path d="M126.2,1536.0L141.0,1525.9L141.0,1546.0Z" fill="#CC9900" stroke="#C99300" stroke-width="1"/>
<path d="M136.7,1536.0L151.6,1525.9L151.6,1546.0Z" fill="#CC9900" stroke="#C99300" stroke-width="1"/>
<path d="M147.3,1537.0L162.2,1526.9L162.2,1547.1Z" fill="#CC9900" stroke="#C99300" stroke-width="1"/>
<path d="M173.8,1544.1L188.6,1534.1L188.6,1554.2Z" fill="#CC9900" stroke="#C99300" stroke-width="1"/>
<path d="M200.3,1549.9L215.1,1539.9L215.1,1560.0Z" fill="#CC9900" stroke="#C99300" stroke-width="1"/>
<path d="M253.2,1558.5L268.0,1548.4L268.0,1568.5Z" fill="#CC9900" stroke="#C99300" stroke-width="1"/>
<path d="M306.1,1564.9L321.0,1554.9L321.0,1575.0Z" fill="#CC9900" stroke="#C99300" stroke-width="1"/>
<path d="M359.1,1568.7L373.9,1558.6L373.9,1578.8Z" fill="#CC9900" stroke="#C99300" stroke-width="1"/>
<path d="M412.0,1571.8L426.9,1561.7L426.9,1581.8Z" fill="#CC9900" stroke="#C99300" stroke-width="1"/>
<path d="M517.9,1575.2L532.7,1565.1L532.7,1585.2Z" fill="#CC9900" stroke="#C99300" stroke-width="1"/>
<path d="M623.8,1577.2L638.6,1567.1L638.6,1587.3Z" fill="#CC9900" stroke="#C99300" stroke-width="1"/>
<path d="M888.5,1580.3L903.3,1570.2L903.3,1590.3Z" fill="#CC9900" stroke="#C99300" stroke-width="1"/>
<path d="M104.2,1587.0 L104.5,1586.9 L105.0,1586.6 L105.5,1586.4 L106.0,1586.1 L106.6,1585.8 L107.6,1585.1 L108.7,1583.8 L111.3,1578.9 L114.0,1570.8 L119.3,1550.3 L124.6,1533.3 L129.9,1527.5 L135.2,1524.8 L145.8,1524.6 L156.3,1525.9 L182.8,1534.6 L209.3,1541.7 L262.2,1552.1 L315.1,1560.0 L368.1,1564.6 L421.0,1568.4 L526.9,1572.5 L632.8,1575.0 L897.5,1578.8" fill="none" stroke="#00C6C8" stroke-width="3.6" stroke-linejoin="round"/>
<path d="M113.5,1587.0L98.4,1576.9L98.4,1597.1Z" fill="#00CBCC" stroke="#00C6C8" stroke-width="1"/>
<path d="M113.8,1586.9L98.6,1576.8L98.6,1596.9Z" fill="#00CBCC" stroke="#00C6C8" stroke-width="1"/>
<path d="M114.3,1586.6L99.2,1576.5L99.2,1596.7Z" fill="#00CBCC" stroke="#00C6C8" stroke-width="1"/>
<path d="M114.8,1586.4L99.7,1576.3L99.7,1596.4Z" fill="#00CBCC" stroke="#00C6C8" stroke-width="1"/>
<path d="M115.4,1586.1L100.2,1576.0L100.2,1596.2Z" fill="#00CBCC" stroke="#00C6C8" stroke-width="1"/>
<path d="M115.9,1585.8L100.7,1575.8L100.7,1595.9Z" fill="#00CBCC" stroke="#00C6C8" stroke-width="1"/>
<path d="M117.0,1585.1L101.8,1575.1L101.8,1595.2Z" fill="#00CBCC" stroke="#00C6C8" stroke-width="1"/>
<path d="M118.0,1583.8L102.9,1573.8L102.9,1593.9Z" fill="#00CBCC" stroke="#00C6C8" stroke-width="1"/>
<path d="M120.7,1578.9L105.5,1568.9L105.5,1589.0Z" fill="#00CBCC" stroke="#00C6C8" stroke-width="1"/>
<path d="M123.3,1570.8L108.2,1560.7L108.2,1580.8Z" fill="#00CBCC" stroke="#00C6C8" stroke-width="1"/>
<path d="M128.6,1550.3L113.5,1540.2L113.5,1560.3Z" fill="#00CBCC" stroke="#00C6C8" stroke-width="1"/>
<path d="M133.9,1533.3L118.7,1523.2L118.7,1543.3Z" fill="#00CBCC" stroke="#00C6C8" stroke-width="1"/>
<path d="M139.2,1527.5L124.0,1517.5L124.0,1537.6Z" fill="#00CBCC" stroke="#00C6C8" stroke-width="1"/>
<path d="M144.5,1524.8L129.3,1514.7L129.3,1534.9Z" fill="#00CBCC" stroke="#00C6C8" stroke-width="1"/>
<path d="M155.1,1524.6L139.9,1514.5L139.9,1534.7Z" fill="#00CBCC" stroke="#00C6C8" stroke-width="1"/>
<path d="M165.7,1525.9L150.5,1515.8L150.5,1535.9Z" fill="#00CBCC" stroke="#00C6C8" stroke-width="1"/>
<path d="M192.1,1534.6L177.0,1524.5L177.0,1544.7Z" fill="#00CBCC" stroke="#00C6C8" stroke-width="1"/>
<path d="M218.6,1541.7L203.4,1531.6L203.4,1551.8Z" fill="#00CBCC" stroke="#00C6C8" stroke-width="1"/>
<path d="M271.5,1552.1L256.4,1542.0L256.4,1562.2Z" fill="#00CBCC" stroke="#00C6C8" stroke-width="1"/>
<path d="M324.5,1560.0L309.3,1549.9L309.3,1570.1Z" fill="#00CBCC" stroke="#00C6C8" stroke-width="1"/>
<path d="M377.4,1564.6L362.3,1554.5L362.3,1574.7Z" fill="#00CBCC" stroke="#00C6C8" stroke-width="1"/>
<path d="M430.4,1568.4L415.2,1558.3L415.2,1578.4Z" fill="#00CBCC" stroke="#00C6C8" stroke-width="1"/>
<path d="M536.2,1572.5L521.1,1562.4L521.1,1582.6Z" fill="#00CBCC" stroke="#00C6C8" stroke-width="1"/>
<path d="M642.1,1575.0L626.9,1564.9L626.9,1585.1Z" fill="#00CBCC" stroke="#00C6C8" stroke-width="1"/>
<path d="M906.8,1578.8L891.6,1568.7L891.6,1588.8Z" fill="#00CBCC" stroke="#00C6C8" stroke-width="1"/>
<path d="M104.2,1587.0 L104.5,1586.9 L105.0,1586.6 L105.5,1586.3 L106.0,1586.0 L106.6,1585.7 L107.6,1585.1 L108.7,1583.7 L111.3,1578.6 L114.0,1570.1 L119.3,1548.2 L124.6,1526.1 L129.9,1517.5 L135.2,1514.5 L145.8,1513.1 L156.3,1514.5 L182.8,1524.9 L209.3,1533.3 L262.2,1545.6 L315.1,1555.0 L368.1,1560.4 L421.0,1564.9 L526.9,1569.8 L632.8,1572.8 L897.5,1577.2" fill="none" stroke="#774646" stroke-width="3.6" stroke-linejoin="round"/>
<polygon points="104.2,1577.7 96.1,1582.3 96.1,1591.7 104.2,1596.3 112.3,1591.7 112.3,1582.3" fill="#7D4E4E" stroke="#774646" stroke-width="1"/>
<polygon points="104.5,1577.5 96.4,1582.2 96.4,1591.5 104.5,1596.2 112.5,1591.5 112.5,1582.2" fill="#7D4E4E" stroke="#774646" stroke-width="1"/>
<polygon points="105.0,1577.3 96.9,1581.9 96.9,1591.2 105.0,1595.9 113.1,1591.2 113.1,1581.9" fill="#7D4E4E" stroke="#774646" stroke-width="1"/>
<polygon points="105.5,1577.0 97.4,1581.6 97.4,1591.0 105.5,1595.6 113.6,1591.0 113.6,1581.6" fill="#7D4E4E" stroke="#774646" stroke-width="1"/>
<polygon points="106.0,1576.7 98.0,1581.3 98.0,1590.7 106.0,1595.3 114.1,1590.7 114.1,1581.3" fill="#7D4E4E" stroke="#774646" stroke-width="1"/>
<polygon points="106.6,1576.4 98.5,1581.1 98.5,1590.4 106.6,1595.0 114.7,1590.4 114.7,1581.1" fill="#7D4E4E" stroke="#774646" stroke-width="1"/>
<polygon points="107.6,1575.8 99.6,1580.5 99.6,1589.8 107.6,1594.5 115.7,1589.8 115.7,1580.5" fill="#7D4E4E" stroke="#774646" stroke-width="1"/>
<polygon points="108.7,1574.4 100.6,1579.0 100.6,1588.4 108.7,1593.0 116.8,1588.4 116.8,1579.0" fill="#7D4E4E" stroke="#774646" stroke-width="1"/>
<polygon points="111.3,1569.3 103.3,1573.9 103.3,1583.3 111.3,1587.9 119.4,1583.3 119.4,1573.9" fill="#7D4E4E" stroke="#774646" stroke-width="1"/>
<polygon points="114.0,1560.8 105.9,1565.5 105.9,1574.8 114.0,1579.4 122.1,1574.8 122.1,1565.5" fill="#7D4E4E" stroke="#774646" stroke-width="1"/>
<polygon points="119.3,1538.9 111.2,1543.5 111.2,1552.9 119.3,1557.5 127.4,1552.9 127.4,1543.5" fill="#7D4E4E" stroke="#774646" stroke-width="1"/>
<polygon points="124.6,1516.8 116.5,1521.4 116.5,1530.8 124.6,1535.4 132.7,1530.8 132.7,1521.4" fill="#7D4E4E" stroke="#774646" stroke-width="1"/>
<polygon points="129.9,1508.2 121.8,1512.8 121.8,1522.2 129.9,1526.8 137.9,1522.2 137.9,1512.8" fill="#7D4E4E" stroke="#774646" stroke-width="1"/>
<polygon points="135.2,1505.1 127.1,1509.8 127.1,1519.1 135.2,1523.8 143.2,1519.1 143.2,1509.8" fill="#7D4E4E" stroke="#774646" stroke-width="1"/>
<polygon points="145.8,1503.7 137.7,1508.4 137.7,1517.7 145.8,1522.4 153.8,1517.7 153.8,1508.4" fill="#7D4E4E" stroke="#774646" stroke-width="1"/>
<polygon points="156.3,1505.2 148.3,1509.9 148.3,1519.2 156.3,1523.9 164.4,1519.2 164.4,1509.9" fill="#7D4E4E" stroke="#774646" stroke-width="1"/>
<polygon points="182.8,1515.6 174.7,1520.2 174.7,1529.6 182.8,1534.2 190.9,1529.6 190.9,1520.2" fill="#7D4E4E" stroke="#774646" stroke-width="1"/>
<polygon points="209.3,1524.0 201.2,1528.6 201.2,1538.0 209.3,1542.6 217.4,1538.0 217.4,1528.6" fill="#7D4E4E" stroke="#774646" stroke-width="1"/>
<polygon points="262.2,1536.3 254.1,1541.0 254.1,1550.3 262.2,1555.0 270.3,1550.3 270.3,1541.0" fill="#7D4E4E" stroke="#774646" stroke-width="1"/>
<polygon points="315.1,1545.7 307.1,1550.4 307.1,1559.7 315.1,1564.3 323.2,1559.7 323.2,1550.4" fill="#7D4E4E" stroke="#774646" stroke-width="1"/>
<polygon points="368.1,1551.1 360.0,1555.8 360.0,1565.1 368.1,1569.8 376.2,1565.1 376.2,1555.8" fill="#7D4E4E" stroke="#774646" stroke-width="1"/>
<polygon points="421.0,1555.6 412.9,1560.2 412.9,1569.6 421.0,1574.2 429.1,1569.6 429.1,1560.2" fill="#7D4E4E" stroke="#774646" stroke-width="1"/>
<polygon points="526.9,1560.5 518.8,1565.2 518.8,1574.5 526.9,1579.1 535.0,1574.5 535.0,1565.2" fill="#7D4E4E" stroke="#774646" stroke-width="1"/>
<polygon points="632.8,1563.5 624.7,1568.1 624.7,1577.4 632.8,1582.1 640.9,1577.4 640.9,1568.1" fill="#7D4E4E" stroke="#774646" stroke-width="1"/>
<polygon points="897.5,1567.9 889.4,1572.6 889.4,1581.9 897.5,1586.6 905.5,1581.9 905.5,1572.6" fill="#7D4E4E" stroke="#774646" stroke-width="1"/>
<path d="M104.2,1587.0 L104.5,1586.9 L105.0,1586.6 L105.5,1586.2 L106.0,1585.9 L106.6,1585.6 L107.6,1585.0 L108.7,1583.7 L111.3,1578.6 L114.0,1570.2 L119.3,1547.5 L124.6,1522.8 L129.9,1508.8 L135.2,1504.3 L145.8,1501.4 L156.3,1503.1 L182.8,1515.1 L209.3,1524.8 L262.2,1539.1 L315.1,1549.9 L368.1,1556.2 L421.0,1561.4 L526.9,1567.1 L632.8,1570.5 L897.5,1575.7" fill="none" stroke="#878700" stroke-width="3.6" stroke-linejoin="round"/>
<polygon points="104.2,1577.5 101.2,1584.0 94.1,1584.8 99.4,1589.7 98.0,1596.7 104.2,1593.2 110.4,1596.7 109.0,1589.7 114.3,1584.8 107.2,1584.0" fill="#8E8E00" stroke="#878700" stroke-width="1"/>
<polygon points="104.5,1577.3 101.5,1583.8 94.4,1584.7 99.6,1589.5 98.2,1596.5 104.5,1593.0 110.7,1596.5 109.3,1589.5 114.5,1584.7 107.4,1583.8" fill="#8E8E00" stroke="#878700" stroke-width="1"/>
<polygon points="105.0,1577.0 102.0,1583.5 94.9,1584.3 100.1,1589.2 98.8,1596.2 105.0,1592.7 111.2,1596.2 109.8,1589.2 115.1,1584.3 108.0,1583.5" fill="#8E8E00" stroke="#878700" stroke-width="1"/>
<polygon points="105.5,1576.7 102.5,1583.2 95.4,1584.0 100.7,1588.9 99.3,1595.9 105.5,1592.4 111.7,1595.9 110.4,1588.9 115.6,1584.0 108.5,1583.2" fill="#8E8E00" stroke="#878700" stroke-width="1"/>
<polygon points="106.0,1576.4 103.1,1582.9 96.0,1583.7 101.2,1588.6 99.8,1595.6 106.0,1592.1 112.3,1595.6 110.9,1588.6 116.1,1583.7 109.0,1582.9" fill="#8E8E00" stroke="#878700" stroke-width="1"/>
<polygon points="106.6,1576.1 103.6,1582.6 96.5,1583.4 101.7,1588.3 100.3,1595.3 106.6,1591.8 112.8,1595.3 111.4,1588.3 116.7,1583.4 109.6,1582.6" fill="#8E8E00" stroke="#878700" stroke-width="1"/>
<polygon points="107.6,1575.5 104.6,1581.9 97.6,1582.8 102.8,1587.6 101.4,1594.6 107.6,1591.1 113.9,1594.6 112.5,1587.6 117.7,1582.8 110.6,1581.9" fill="#8E8E00" stroke="#878700" stroke-width="1"/>
<polygon points="108.7,1574.2 105.7,1580.7 98.6,1581.5 103.9,1586.3 102.5,1593.3 108.7,1589.9 114.9,1593.3 113.5,1586.3 118.8,1581.5 111.7,1580.7" fill="#8E8E00" stroke="#878700" stroke-width="1"/>
<polygon points="111.3,1569.1 108.3,1575.6 101.3,1576.4 106.5,1581.3 105.1,1588.3 111.3,1584.8 117.6,1588.3 116.2,1581.3 121.4,1576.4 114.3,1575.6" fill="#8E8E00" stroke="#878700" stroke-width="1"/>
<polygon points="114.0,1560.6 111.0,1567.1 103.9,1568.0 109.1,1572.8 107.8,1579.8 114.0,1576.3 120.2,1579.8 118.8,1572.8 124.1,1568.0 117.0,1567.1" fill="#8E8E00" stroke="#878700" stroke-width="1"/>
<polygon points="119.3,1538.0 116.3,1544.5 109.2,1545.3 114.4,1550.2 113.1,1557.2 119.3,1553.7 125.5,1557.2 124.1,1550.2 129.4,1545.3 122.3,1544.5" fill="#8E8E00" stroke="#878700" stroke-width="1"/>
<polygon points="124.6,1513.3 121.6,1519.8 114.5,1520.6 119.7,1525.5 118.3,1532.5 124.6,1529.0 130.8,1532.5 129.4,1525.5 134.7,1520.6 127.6,1519.8" fill="#8E8E00" stroke="#878700" stroke-width="1"/>
<polygon points="129.9,1499.2 126.9,1505.7 119.8,1506.6 125.0,1511.4 123.6,1518.4 129.9,1514.9 136.1,1518.4 134.7,1511.4 139.9,1506.6 132.9,1505.7" fill="#8E8E00" stroke="#878700" stroke-width="1"/>
<polygon points="135.2,1494.8 132.2,1501.3 125.1,1502.1 130.3,1507.0 128.9,1514.0 135.2,1510.5 141.4,1514.0 140.0,1507.0 145.2,1502.1 138.2,1501.3" fill="#8E8E00" stroke="#878700" stroke-width="1"/>
<polygon points="145.8,1491.8 142.8,1498.3 135.7,1499.1 140.9,1504.0 139.5,1511.0 145.8,1507.5 152.0,1511.0 150.6,1504.0 155.8,1499.1 148.7,1498.3" fill="#8E8E00" stroke="#878700" stroke-width="1"/>
<polygon points="156.3,1493.5 153.3,1500.0 146.3,1500.9 151.5,1505.7 150.1,1512.7 156.3,1509.2 162.6,1512.7 161.2,1505.7 166.4,1500.9 159.3,1500.0" fill="#8E8E00" stroke="#878700" stroke-width="1"/>
<polygon points="182.8,1505.5 179.8,1512.0 172.7,1512.9 178.0,1517.7 176.6,1524.7 182.8,1521.2 189.0,1524.7 187.6,1517.7 192.9,1512.9 185.8,1512.0" fill="#8E8E00" stroke="#878700" stroke-width="1"/>
<polygon points="209.3,1515.3 206.3,1521.7 199.2,1522.6 204.4,1527.4 203.0,1534.4 209.3,1530.9 215.5,1534.4 214.1,1527.4 219.4,1522.6 212.3,1521.7" fill="#8E8E00" stroke="#878700" stroke-width="1"/>
<polygon points="262.2,1529.5 259.2,1536.0 252.1,1536.9 257.4,1541.7 256.0,1548.7 262.2,1545.2 268.4,1548.7 267.1,1541.7 272.3,1536.9 265.2,1536.0" fill="#8E8E00" stroke="#878700" stroke-width="1"/>
<polygon points="315.1,1540.4 312.2,1546.9 305.1,1547.7 310.3,1552.6 308.9,1559.6 315.1,1556.1 321.4,1559.6 320.0,1552.6 325.2,1547.7 318.1,1546.9" fill="#8E8E00" stroke="#878700" stroke-width="1"/>
<polygon points="368.1,1546.7 365.1,1553.2 358.0,1554.0 363.2,1558.9 361.9,1565.9 368.1,1562.4 374.3,1565.9 372.9,1558.9 378.2,1554.0 371.1,1553.2" fill="#8E8E00" stroke="#878700" stroke-width="1"/>
<polygon points="421.0,1551.8 418.0,1558.3 410.9,1559.2 416.2,1564.0 414.8,1571.0 421.0,1567.5 427.3,1571.0 425.9,1564.0 431.1,1559.2 424.0,1558.3" fill="#8E8E00" stroke="#878700" stroke-width="1"/>
<polygon points="526.9,1557.5 523.9,1564.0 516.8,1564.9 522.1,1569.7 520.7,1576.7 526.9,1573.2 533.1,1576.7 531.7,1569.7 537.0,1564.9 529.9,1564.0" fill="#8E8E00" stroke="#878700" stroke-width="1"/>
<polygon points="632.8,1561.0 629.8,1567.5 622.7,1568.3 627.9,1573.2 626.5,1580.2 632.8,1576.7 639.0,1580.2 637.6,1573.2 642.9,1568.3 635.8,1567.5" fill="#8E8E00" stroke="#878700" stroke-width="1"/>
<polygon points="897.5,1566.1 894.5,1572.6 887.4,1573.4 892.6,1578.3 891.2,1585.3 897.5,1581.8 903.7,1585.3 902.3,1578.3 907.5,1573.4 900.5,1572.6" fill="#8E8E00" stroke="#878700" stroke-width="1"/>
<path d="M104.2,1587.1 L104.5,1586.9 L105.0,1586.6 L105.5,1586.2 L106.0,1585.9 L106.6,1585.5 L107.6,1584.9 L108.7,1584.2 L111.3,1579.8 L114.0,1572.5 L119.3,1550.6 L124.6,1521.3 L129.9,1495.8 L135.2,1484.8 L145.8,1477.5 L156.3,1479.7 L182.8,1495.0 L209.3,1507.5 L262.2,1525.7 L315.1,1539.6 L368.1,1547.6 L421.0,1554.2 L526.9,1561.5 L632.8,1565.9 L897.5,1572.5" fill="none" stroke="#FA5C00" stroke-width="3.6" stroke-linejoin="round"/>
<polygon points="104.2,1578.3 94.8,1585.1 98.4,1596.1 110.0,1596.1 113.6,1585.1" fill="#FB6501" stroke="#FA5C00" stroke-width="1"/>
<polygon points="104.5,1578.1 95.1,1584.9 98.7,1596.0 110.3,1596.0 113.8,1584.9" fill="#FB6501" stroke="#FA5C00" stroke-width="1"/>
<polygon points="105.0,1577.8 95.6,1584.6 99.2,1595.6 110.8,1595.6 114.4,1584.6" fill="#FB6501" stroke="#FA5C00" stroke-width="1"/>
<polygon points="105.5,1577.4 96.1,1584.2 99.7,1595.3 111.3,1595.3 114.9,1584.2" fill="#FB6501" stroke="#FA5C00" stroke-width="1"/>
<polygon points="106.0,1577.1 96.7,1583.9 100.3,1594.9 111.8,1594.9 115.4,1583.9" fill="#FB6501" stroke="#FA5C00" stroke-width="1"/>
<polygon points="106.6,1576.7 97.2,1583.6 100.8,1594.6 112.4,1594.6 116.0,1583.6" fill="#FB6501" stroke="#FA5C00" stroke-width="1"/>
<polygon points="107.6,1576.1 98.3,1582.9 101.8,1593.9 113.4,1593.9 117.0,1582.9" fill="#FB6501" stroke="#FA5C00" stroke-width="1"/>
<polygon points="108.7,1575.4 99.3,1582.2 102.9,1593.2 114.5,1593.2 118.1,1582.2" fill="#FB6501" stroke="#FA5C00" stroke-width="1"/>
<polygon points="111.3,1571.0 102.0,1577.8 105.5,1588.8 117.1,1588.8 120.7,1577.8" fill="#FB6501" stroke="#FA5C00" stroke-width="1"/>
<polygon points="114.0,1563.7 104.6,1570.5 108.2,1581.5 119.8,1581.5 123.4,1570.5" fill="#FB6501" stroke="#FA5C00" stroke-width="1"/>
<polygon points="119.3,1541.8 109.9,1548.6 113.5,1559.6 125.1,1559.6 128.7,1548.6" fill="#FB6501" stroke="#FA5C00" stroke-width="1"/>
<polygon points="124.6,1512.5 115.2,1519.4 118.8,1530.4 130.4,1530.4 134.0,1519.4" fill="#FB6501" stroke="#FA5C00" stroke-width="1"/>
<polygon points="129.9,1487.0 120.5,1493.8 124.1,1504.8 135.7,1504.8 139.2,1493.8" fill="#FB6501" stroke="#FA5C00" stroke-width="1"/>
<polygon points="135.2,1476.0 125.8,1482.8 129.4,1493.8 141.0,1493.8 144.5,1482.8" fill="#FB6501" stroke="#FA5C00" stroke-width="1"/>
<polygon points="145.8,1468.7 136.4,1475.5 140.0,1486.5 151.5,1486.5 155.1,1475.5" fill="#FB6501" stroke="#FA5C00" stroke-width="1"/>
<polygon points="156.3,1470.9 147.0,1477.7 150.5,1488.7 162.1,1488.7 165.7,1477.7" fill="#FB6501" stroke="#FA5C00" stroke-width="1"/>
<polygon points="182.8,1486.2 173.4,1493.1 177.0,1504.1 188.6,1504.1 192.2,1493.1" fill="#FB6501" stroke="#FA5C00" stroke-width="1"/>
<polygon points="209.3,1498.7 199.9,1505.5 203.5,1516.5 215.1,1516.5 218.7,1505.5" fill="#FB6501" stroke="#FA5C00" stroke-width="1"/>
<polygon points="262.2,1516.9 252.8,1523.7 256.4,1534.8 268.0,1534.8 271.6,1523.7" fill="#FB6501" stroke="#FA5C00" stroke-width="1"/>
<polygon points="315.1,1530.8 305.8,1537.6 309.4,1548.6 320.9,1548.6 324.5,1537.6" fill="#FB6501" stroke="#FA5C00" stroke-width="1"/>
<polygon points="368.1,1538.8 358.7,1545.7 362.3,1556.7 373.9,1556.7 377.5,1545.7" fill="#FB6501" stroke="#FA5C00" stroke-width="1"/>
<polygon points="421.0,1545.4 411.6,1552.2 415.2,1563.3 426.8,1563.3 430.4,1552.2" fill="#FB6501" stroke="#FA5C00" stroke-width="1"/>
<polygon points="526.9,1552.7 517.5,1559.5 521.1,1570.6 532.7,1570.6 536.3,1559.5" fill="#FB6501" stroke="#FA5C00" stroke-width="1"/>
<polygon points="632.8,1557.1 623.4,1563.9 627.0,1574.9 638.6,1574.9 642.2,1563.9" fill="#FB6501" stroke="#FA5C00" stroke-width="1"/>
<polygon points="897.5,1563.7 888.1,1570.5 891.7,1581.5 903.3,1581.5 906.8,1570.5" fill="#FB6501" stroke="#FA5C00" stroke-width="1"/>
<path d="M104.2,1587.1 L104.5,1586.9 L105.0,1586.4 L105.5,1586.0 L106.0,1585.6 L106.6,1585.2 L107.6,1584.3 L108.7,1583.4 L111.3,1576.1 L114.0,1561.5 L119.3,1535.2 L124.6,1481.9 L129.9,1442.4 L135.2,1422.7 L145.8,1406.6 L156.3,1408.8 L182.8,1430.0 L209.3,1451.9 L262.2,1484.8 L315.1,1505.3 L368.1,1519.1 L421.0,1529.4 L526.9,1541.1 L632.8,1546.9 L897.5,1556.4" fill="none" stroke="#5C90C8" stroke-width="3.6" stroke-linejoin="round"/>
<circle cx="104.2" cy="1587.1" r="8.5" fill="url(#sph)"/>
<circle cx="104.5" cy="1586.9" r="8.5" fill="url(#sph)"/>
<circle cx="105.0" cy="1586.4" r="8.5" fill="url(#sph)"/>
<circle cx="105.5" cy="1586.0" r="8.5" fill="url(#sph)"/>
<circle cx="106.0" cy="1585.6" r="8.5" fill="url(#sph)"/>
<circle cx="106.6" cy="1585.2" r="8.5" fill="url(#sph)"/>
<circle cx="107.6" cy="1584.3" r="8.5" fill="url(#sph)"/>
<circle cx="108.7" cy="1583.4" r="8.5" fill="url(#sph)"/>
<circle cx="111.3" cy="1576.1" r="8.5" fill="url(#sph)"/>
<circle cx="114.0" cy="1561.5" r="8.5" fill="url(#sph)"/>
<circle cx="119.3" cy="1535.2" r="8.5" fill="url(#sph)"/>
<circle cx="124.6" cy="1481.9" r="8.5" fill="url(#sph)"/>
<circle cx="129.9" cy="1442.4" r="8.5" fill="url(#sph)"/>
<circle cx="135.2" cy="1422.7" r="8.5" fill="url(#sph)"/>
<circle cx="145.8" cy="1406.6" r="8.5" fill="url(#sph)"/>
<circle cx="156.3" cy="1408.8" r="8.5" fill="url(#sph)"/>
<circle cx="182.8" cy="1430.0" r="8.5" fill="url(#sph)"/>
<circle cx="209.3" cy="1451.9" r="8.5" fill="url(#sph)"/>
<circle cx="262.2" cy="1484.8" r="8.5" fill="url(#sph)"/>
<circle cx="315.1" cy="1505.3" r="8.5" fill="url(#sph)"/>
<circle cx="368.1" cy="1519.1" r="8.5" fill="url(#sph)"/>
<circle cx="421.0" cy="1529.4" r="8.5" fill="url(#sph)"/>
<circle cx="526.9" cy="1541.1" r="8.5" fill="url(#sph)"/>
<circle cx="632.8" cy="1546.9" r="8.5" fill="url(#sph)"/>
<circle cx="897.5" cy="1556.4" r="8.5" fill="url(#sph)"/>
<path d="M104.2,1587.1 L104.5,1586.9 L105.0,1586.4 L105.5,1586.0 L106.0,1585.6 L106.6,1585.2 L107.6,1584.3 L108.7,1583.4 L111.3,1575.4 L114.0,1557.9 L119.3,1522.8 L124.6,1443.2 L129.9,1380.3 L135.2,1351.1 L145.8,1324.8 L156.3,1328.5 L182.8,1352.6 L209.3,1386.2 L262.2,1435.1 L315.1,1465.1 L368.1,1482.6 L421.0,1495.8 L526.9,1512.6 L632.8,1518.4 L897.5,1525.7" fill="none" stroke="#69B000" stroke-width="3.6" stroke-linejoin="round"/>
<path d="M104.2,1578.6V1595.6M95.7,1587.1H112.7" stroke="#69B000" stroke-width="1.6"/>
<path d="M104.5,1578.4V1595.4M96.0,1586.9H112.9" stroke="#69B000" stroke-width="1.6"/>
<path d="M105.0,1578.0V1594.9M96.5,1586.4H113.5" stroke="#69B000" stroke-width="1.6"/>
<path d="M105.5,1577.5V1594.5M97.0,1586.0H114.0" stroke="#69B000" stroke-width="1.6"/>
<path d="M106.0,1577.1V1594.1M97.6,1585.6H114.5" stroke="#69B000" stroke-width="1.6"/>
<path d="M106.6,1576.7V1593.6M98.1,1585.2H115.1" stroke="#69B000" stroke-width="1.6"/>
<path d="M107.6,1575.8V1592.8M99.2,1584.3H116.1" stroke="#69B000" stroke-width="1.6"/>
<path d="M108.7,1575.0V1591.9M100.2,1583.4H117.2" stroke="#69B000" stroke-width="1.6"/>
<path d="M111.3,1566.9V1583.9M102.9,1575.4H119.8" stroke="#69B000" stroke-width="1.6"/>
<path d="M114.0,1549.4V1566.4M105.5,1557.9H122.5" stroke="#69B000" stroke-width="1.6"/>
<path d="M119.3,1514.3V1531.3M110.8,1522.8H127.8" stroke="#69B000" stroke-width="1.6"/>
<path d="M124.6,1434.7V1451.6M116.1,1443.2H133.1" stroke="#69B000" stroke-width="1.6"/>
<path d="M129.9,1371.9V1388.8M121.4,1380.3H138.3" stroke="#69B000" stroke-width="1.6"/>
<path d="M135.2,1342.6V1359.6M126.7,1351.1H143.6" stroke="#69B000" stroke-width="1.6"/>
<path d="M145.8,1316.3V1333.3M137.3,1324.8H154.2" stroke="#69B000" stroke-width="1.6"/>
<path d="M156.3,1320.0V1336.9M147.9,1328.5H164.8" stroke="#69B000" stroke-width="1.6"/>
<path d="M182.8,1344.1V1361.1M174.3,1352.6H191.3" stroke="#69B000" stroke-width="1.6"/>
<path d="M209.3,1377.7V1394.7M200.8,1386.2H217.8" stroke="#69B000" stroke-width="1.6"/>
<path d="M262.2,1426.6V1443.6M253.7,1435.1H270.7" stroke="#69B000" stroke-width="1.6"/>
<path d="M315.1,1456.6V1473.6M306.7,1465.1H323.6" stroke="#69B000" stroke-width="1.6"/>
<path d="M368.1,1474.1V1491.1M359.6,1482.6H376.6" stroke="#69B000" stroke-width="1.6"/>
<path d="M421.0,1487.3V1504.2M412.5,1495.8H429.5" stroke="#69B000" stroke-width="1.6"/>
<path d="M526.9,1504.1V1521.1M518.4,1512.6H535.4" stroke="#69B000" stroke-width="1.6"/>
<path d="M632.8,1509.9V1526.9M624.3,1518.4H641.3" stroke="#69B000" stroke-width="1.6"/>
<path d="M897.5,1517.2V1534.2M889.0,1525.7H905.9" stroke="#69B000" stroke-width="1.6"/>
<path d="M104.2,1587.1 L104.5,1586.9 L105.0,1586.4 L105.5,1586.0 L106.0,1585.6 L106.6,1585.2 L107.6,1584.3 L108.7,1583.4 L111.3,1573.9 L114.0,1554.2 L119.3,1511.8 L124.6,1405.2 L129.9,1314.6 L135.2,1275.9 L145.8,1234.9 L156.3,1240.1 L182.8,1269.3 L209.3,1318.2 L262.2,1384.7 L315.1,1417.6 L368.1,1438.8 L421.0,1459.2 L526.9,1476.0 L632.8,1479.0 L897.5,1470.9" fill="none" stroke="#555555" stroke-width="3.6" stroke-linejoin="round"/>
<path d="M95.4,1578.3L113.0,1595.9M95.4,1595.9L113.0,1578.3" stroke="#555555" stroke-width="1.6"/>
<path d="M95.7,1578.1L113.3,1595.7M95.7,1595.7L113.3,1578.1" stroke="#555555" stroke-width="1.6"/>
<path d="M96.2,1577.7L113.8,1595.2M96.2,1595.2L113.8,1577.7" stroke="#555555" stroke-width="1.6"/>
<path d="M96.7,1577.2L114.3,1594.8M96.7,1594.8L114.3,1577.2" stroke="#555555" stroke-width="1.6"/>
<path d="M97.2,1576.8L114.8,1594.4M97.2,1594.4L114.8,1576.8" stroke="#555555" stroke-width="1.6"/>
<path d="M97.8,1576.4L115.4,1594.0M97.8,1594.0L115.4,1576.4" stroke="#555555" stroke-width="1.6"/>
<path d="M98.8,1575.5L116.4,1593.1M98.8,1593.1L116.4,1575.5" stroke="#555555" stroke-width="1.6"/>
<path d="M99.9,1574.6L117.5,1592.2M99.9,1592.2L117.5,1574.6" stroke="#555555" stroke-width="1.6"/>
<path d="M102.5,1565.1L120.1,1582.7M102.5,1582.7L120.1,1565.1" stroke="#555555" stroke-width="1.6"/>
<path d="M105.2,1545.4L122.8,1563.0M105.2,1563.0L122.8,1545.4" stroke="#555555" stroke-width="1.6"/>
<path d="M110.5,1503.0L128.1,1520.6M110.5,1520.6L128.1,1503.0" stroke="#555555" stroke-width="1.6"/>
<path d="M115.8,1396.4L133.4,1414.0M115.8,1414.0L133.4,1396.4" stroke="#555555" stroke-width="1.6"/>
<path d="M121.1,1305.8L138.7,1323.4M121.1,1323.4L138.7,1305.8" stroke="#555555" stroke-width="1.6"/>
<path d="M126.4,1267.1L144.0,1284.7M126.4,1284.7L144.0,1267.1" stroke="#555555" stroke-width="1.6"/>
<path d="M137.0,1226.1L154.5,1243.7M137.0,1243.7L154.5,1226.1" stroke="#555555" stroke-width="1.6"/>
<path d="M147.5,1231.3L165.1,1248.9M147.5,1248.9L165.1,1231.3" stroke="#555555" stroke-width="1.6"/>
<path d="M174.0,1260.5L191.6,1278.1M174.0,1278.1L191.6,1260.5" stroke="#555555" stroke-width="1.6"/>
<path d="M200.5,1309.4L218.1,1327.0M200.5,1327.0L218.1,1309.4" stroke="#555555" stroke-width="1.6"/>
<path d="M253.4,1375.9L271.0,1393.5M253.4,1393.5L271.0,1375.9" stroke="#555555" stroke-width="1.6"/>
<path d="M306.4,1408.8L323.9,1426.4M306.4,1426.4L323.9,1408.8" stroke="#555555" stroke-width="1.6"/>
<path d="M359.3,1430.0L376.9,1447.6M359.3,1447.6L376.9,1430.0" stroke="#555555" stroke-width="1.6"/>
<path d="M412.2,1450.4L429.8,1468.0M412.2,1468.0L429.8,1450.4" stroke="#555555" stroke-width="1.6"/>
<path d="M518.1,1467.2L535.7,1484.8M518.1,1484.8L535.7,1467.2" stroke="#555555" stroke-width="1.6"/>
<path d="M624.0,1470.2L641.6,1487.8M624.0,1487.8L641.6,1470.2" stroke="#555555" stroke-width="1.6"/>
<path d="M888.7,1462.1L906.3,1479.7M888.7,1479.7L906.3,1462.1" stroke="#555555" stroke-width="1.6"/>
<path d="M104.2,1587.1 L104.5,1586.9 L105.0,1586.4 L105.5,1586.0 L106.0,1585.6 L106.6,1585.2 L107.6,1584.3 L108.7,1583.4 L111.3,1572.5 L114.0,1547.6 L119.3,1501.6 L124.6,1375.2 L129.9,1255.4 L135.2,1205.7 L145.8,1148.0 L156.3,1155.3 L182.8,1180.9 L209.3,1248.1 L262.2,1332.1 L315.1,1369.4 L368.1,1394.9 L421.0,1419.4 L526.9,1431.5 L632.8,1429.3 L897.5,1382.5" fill="none" stroke="#EE3030" stroke-width="3.6" stroke-linejoin="round"/>
<path d="M95.4,1578.3L113.0,1595.9M95.4,1595.9L113.0,1578.3M104.2,1578.3V1595.9M95.4,1587.1H113.0" stroke="#EE3030" stroke-width="1.6"/>
<path d="M95.7,1578.1L113.3,1595.7M95.7,1595.7L113.3,1578.1M104.5,1578.1V1595.7M95.7,1586.9H113.3" stroke="#EE3030" stroke-width="1.6"/>
<path d="M96.2,1577.7L113.8,1595.2M96.2,1595.2L113.8,1577.7M105.0,1577.7V1595.2M96.2,1586.4H113.8" stroke="#EE3030" stroke-width="1.6"/>
<path d="M96.7,1577.2L114.3,1594.8M96.7,1594.8L114.3,1577.2M105.5,1577.2V1594.8M96.7,1586.0H114.3" stroke="#EE3030" stroke-width="1.6"/>
<path d="M97.2,1576.8L114.8,1594.4M97.2,1594.4L114.8,1576.8M106.0,1576.8V1594.4M97.2,1585.6H114.8" stroke="#EE3030" stroke-width="1.6"/>
<path d="M97.8,1576.4L115.4,1594.0M97.8,1594.0L115.4,1576.4M106.6,1576.4V1594.0M97.8,1585.2H115.4" stroke="#EE3030" stroke-width="1.6"/>
<path d="M98.8,1575.5L116.4,1593.1M98.8,1593.1L116.4,1575.5M107.6,1575.5V1593.1M98.8,1584.3H116.4" stroke="#EE3030" stroke-width="1.6"/>
<path d="M99.9,1574.6L117.5,1592.2M99.9,1592.2L117.5,1574.6M108.7,1574.6V1592.2M99.9,1583.4H117.5" stroke="#EE3030" stroke-width="1.6"/>
<path d="M102.5,1563.7L120.1,1581.3M102.5,1581.3L120.1,1563.7M111.3,1563.7V1581.3M102.5,1572.5H120.1" stroke="#EE3030" stroke-width="1.6"/>
<path d="M105.2,1538.8L122.8,1556.4M105.2,1556.4L122.8,1538.8M114.0,1538.8V1556.4M105.2,1547.6H122.8" stroke="#EE3030" stroke-width="1.6"/>
<path d="M110.5,1492.8L128.1,1510.4M110.5,1510.4L128.1,1492.8M119.3,1492.8V1510.4M110.5,1501.6H128.1" stroke="#EE3030" stroke-width="1.6"/>
<path d="M115.8,1366.4L133.4,1384.0M115.8,1384.0L133.4,1366.4M124.6,1366.4V1384.0M115.8,1375.2H133.4" stroke="#EE3030" stroke-width="1.6"/>
<path d="M121.1,1246.6L138.7,1264.2M121.1,1264.2L138.7,1246.6M129.9,1246.6V1264.2M121.1,1255.4H138.7" stroke="#EE3030" stroke-width="1.6"/>
<path d="M126.4,1196.9L144.0,1214.5M126.4,1214.5L144.0,1196.9M135.2,1196.9V1214.5M126.4,1205.7H144.0" stroke="#EE3030" stroke-width="1.6"/>
<path d="M137.0,1139.2L154.5,1156.8M137.0,1156.8L154.5,1139.2M145.8,1139.2V1156.8M137.0,1148.0H154.5" stroke="#EE3030" stroke-width="1.6"/>
<path d="M147.5,1146.5L165.1,1164.1M147.5,1164.1L165.1,1146.5M156.3,1146.5V1164.1M147.5,1155.3H165.1" stroke="#EE3030" stroke-width="1.6"/>
<path d="M174.0,1172.1L191.6,1189.7M174.0,1189.7L191.6,1172.1M182.8,1172.1V1189.7M174.0,1180.9H191.6" stroke="#EE3030" stroke-width="1.6"/>
<path d="M200.5,1239.3L218.1,1256.9M200.5,1256.9L218.1,1239.3M209.3,1239.3V1256.9M200.5,1248.1H218.1" stroke="#EE3030" stroke-width="1.6"/>
<path d="M253.4,1323.3L271.0,1340.9M253.4,1340.9L271.0,1323.3M262.2,1323.3V1340.9M253.4,1332.1H271.0" stroke="#EE3030" stroke-width="1.6"/>
<path d="M306.4,1360.6L323.9,1378.2M306.4,1378.2L323.9,1360.6M315.1,1360.6V1378.2M306.4,1369.4H323.9" stroke="#EE3030" stroke-width="1.6"/>
<path d="M359.3,1386.1L376.9,1403.7M359.3,1403.7L376.9,1386.1M368.1,1386.1V1403.7M359.3,1394.9H376.9" stroke="#EE3030" stroke-width="1.6"/>
<path d="M412.2,1410.6L429.8,1428.2M412.2,1428.2L429.8,1410.6M421.0,1410.6V1428.2M412.2,1419.4H429.8" stroke="#EE3030" stroke-width="1.6"/>
<path d="M518.1,1422.7L535.7,1440.3M518.1,1440.3L535.7,1422.7M526.9,1422.7V1440.3M518.1,1431.5H535.7" stroke="#EE3030" stroke-width="1.6"/>
<path d="M624.0,1420.5L641.6,1438.1M624.0,1438.1L641.6,1420.5M632.8,1420.5V1438.1M624.0,1429.3H641.6" stroke="#EE3030" stroke-width="1.6"/>
<path d="M888.7,1373.7L906.3,1391.3M888.7,1391.3L906.3,1373.7M897.5,1373.7V1391.3M888.7,1382.5H906.3" stroke="#EE3030" stroke-width="1.6"/>
<path d="M104.2,1587.1 L104.5,1586.9 L105.0,1586.4 L105.5,1586.0 L106.0,1585.6 L106.6,1585.2 L107.6,1584.3 L108.7,1583.4 L111.3,1572.5 L114.0,1546.9 L119.3,1493.6 L124.6,1345.3 L129.9,1195.5 L135.2,1134.9 L145.8,1060.3 L156.3,1068.4 L182.8,1090.3 L209.3,1172.8 L262.2,1273.7 L315.1,1321.2 L368.1,1349.6 L421.0,1374.5 L526.9,1381.1 L632.8,1363.5 L897.5,1238.6" fill="none" stroke="#1162DD" stroke-width="3.6" stroke-linejoin="round"/>
<path d="M95.7,1587.1H112.7" stroke="#1162DD" stroke-width="1.6"/>
<path d="M96.0,1586.9H112.9" stroke="#1162DD" stroke-width="1.6"/>
<path d="M96.5,1586.4H113.5" stroke="#1162DD" stroke-width="1.6"/>
<path d="M97.0,1586.0H114.0" stroke="#1162DD" stroke-width="1.6"/>
<path d="M97.6,1585.6H114.5" stroke="#1162DD" stroke-width="1.6"/>
<path d="M98.1,1585.2H115.1" stroke="#1162DD" stroke-width="1.6"/>
<path d="M99.2,1584.3H116.1" stroke="#1162DD" stroke-width="1.6"/>
<path d="M100.2,1583.4H117.2" stroke="#1162DD" stroke-width="1.6"/>
<path d="M102.9,1572.5H119.8" stroke="#1162DD" stroke-width="1.6"/>
<path d="M105.5,1546.9H122.5" stroke="#1162DD" stroke-width="1.6"/>
<path d="M110.8,1493.6H127.8" stroke="#1162DD" stroke-width="1.6"/>
<path d="M116.1,1345.3H133.1" stroke="#1162DD" stroke-width="1.6"/>
<path d="M121.4,1195.5H138.3" stroke="#1162DD" stroke-width="1.6"/>
<path d="M126.7,1134.9H143.6" stroke="#1162DD" stroke-width="1.6"/>
<path d="M137.3,1060.3H154.2" stroke="#1162DD" stroke-width="1.6"/>
<path d="M147.9,1068.4H164.8" stroke="#1162DD" stroke-width="1.6"/>
<path d="M174.3,1090.3H191.3" stroke="#1162DD" stroke-width="1.6"/>
<path d="M200.8,1172.8H217.8" stroke="#1162DD" stroke-width="1.6"/>
<path d="M253.7,1273.7H270.7" stroke="#1162DD" stroke-width="1.6"/>
<path d="M306.7,1321.2H323.6" stroke="#1162DD" stroke-width="1.6"/>
<path d="M359.6,1349.6H376.6" stroke="#1162DD" stroke-width="1.6"/>
<path d="M412.5,1374.5H429.5" stroke="#1162DD" stroke-width="1.6"/>
<path d="M518.4,1381.1H535.4" stroke="#1162DD" stroke-width="1.6"/>
<path d="M624.3,1363.5H641.3" stroke="#1162DD" stroke-width="1.6"/>
<path d="M889.0,1238.6H905.9" stroke="#1162DD" stroke-width="1.6"/>
<path d="M104.2,1587.1 L104.5,1587.1 L105.0,1587.1 L105.5,1587.1 L106.0,1587.1 L106.6,1587.1 L107.6,1583.4 L108.7,1576.9 L111.3,1558.6 L114.0,1540.3 L119.3,1470.2 L124.6,1258.3 L129.9,1119.5 L135.2,1028.2 L145.8,953.7 L156.3,966.1 L182.8,991.7 L209.3,1083.0 L262.2,1203.5 L315.1,1262.7 L368.1,1291.9 L421.0,1322.6 L526.9,1312.4 L632.8,1271.5 L897.5,990.2" fill="none" stroke="#27A25C" stroke-width="3.6" stroke-linejoin="round"/>
<path d="M104.2,1578.6V1595.6" stroke="#27A25C" stroke-width="1.6"/>
<path d="M104.5,1578.6V1595.6" stroke="#27A25C" stroke-width="1.6"/>
<path d="M105.0,1578.6V1595.6" stroke="#27A25C" stroke-width="1.6"/>
<path d="M105.5,1578.6V1595.6" stroke="#27A25C" stroke-width="1.6"/>
<path d="M106.0,1578.6V1595.6" stroke="#27A25C" stroke-width="1.6"/>
<path d="M106.6,1578.6V1595.6" stroke="#27A25C" stroke-width="1.6"/>
<path d="M107.6,1575.0V1591.9" stroke="#27A25C" stroke-width="1.6"/>
<path d="M108.7,1568.4V1585.3" stroke="#27A25C" stroke-width="1.6"/>
<path d="M111.3,1550.1V1567.1" stroke="#27A25C" stroke-width="1.6"/>
<path d="M114.0,1531.9V1548.8" stroke="#27A25C" stroke-width="1.6"/>
<path d="M119.3,1461.7V1478.7" stroke="#27A25C" stroke-width="1.6"/>
<path d="M124.6,1249.8V1266.8" stroke="#27A25C" stroke-width="1.6"/>
<path d="M129.9,1111.0V1128.0" stroke="#27A25C" stroke-width="1.6"/>
<path d="M135.2,1019.7V1036.7" stroke="#27A25C" stroke-width="1.6"/>
<path d="M145.8,945.2V962.1" stroke="#27A25C" stroke-width="1.6"/>
<path d="M156.3,957.6V974.6" stroke="#27A25C" stroke-width="1.6"/>
<path d="M182.8,983.2V1000.1" stroke="#27A25C" stroke-width="1.6"/>
<path d="M209.3,1074.5V1091.5" stroke="#27A25C" stroke-width="1.6"/>
<path d="M262.2,1195.0V1212.0" stroke="#27A25C" stroke-width="1.6"/>
<path d="M315.1,1254.2V1271.2" stroke="#27A25C" stroke-width="1.6"/>
<path d="M368.1,1283.5V1300.4" stroke="#27A25C" stroke-width="1.6"/>
<path d="M421.0,1314.1V1331.1" stroke="#27A25C" stroke-width="1.6"/>
<path d="M526.9,1303.9V1320.9" stroke="#27A25C" stroke-width="1.6"/>
<path d="M632.8,1263.0V1280.0" stroke="#27A25C" stroke-width="1.6"/>
<path d="M897.5,981.7V998.7" stroke="#27A25C" stroke-width="1.6"/>
</g>
<text x="88.5" y="1605.0" font-family="'Liberation Sans', sans-serif" font-size="37.5" text-anchor="end">0</text>
<text x="88.5" y="1458.9" font-family="'Liberation Sans', sans-serif" font-size="37.5" text-anchor="end">20</text>
<text x="88.5" y="1312.8" font-family="'Liberation Sans', sans-serif" font-size="37.5" text-anchor="end">40</text>
<text x="88.5" y="1166.7" font-family="'Liberation Sans', sans-serif" font-size="37.5" text-anchor="end">60</text>
<text x="88.5" y="1020.5" font-family="'Liberation Sans', sans-serif" font-size="37.5" text-anchor="end">80</text>
<text x="88.5" y="874.4" font-family="'Liberation Sans', sans-serif" font-size="37.5" text-anchor="end">100</text>
<text x="103.4" y="1638.0" font-family="'Liberation Sans', sans-serif" font-size="37.5" text-anchor="middle">0</text>
<text x="209.3" y="1638.0" font-family="'Liberation Sans', sans-serif" font-size="37.5" text-anchor="middle">2</text>
<text x="315.1" y="1638.0" font-family="'Liberation Sans', sans-serif" font-size="37.5" text-anchor="middle">4</text>
<text x="421.0" y="1638.0" font-family="'Liberation Sans', sans-serif" font-size="37.5" text-anchor="middle">6</text>
<text x="526.9" y="1638.0" font-family="'Liberation Sans', sans-serif" font-size="37.5" text-anchor="middle">8</text>
<text x="632.8" y="1638.0" font-family="'Liberation Sans', sans-serif" font-size="37.5" text-anchor="middle">10</text>
<text x="738.6" y="1638.0" font-family="'Liberation Sans', sans-serif" font-size="37.5" text-anchor="middle">12</text>
<text x="844.5" y="1638.0" font-family="'Liberation Sans', sans-serif" font-size="37.5" text-anchor="middle">14</text>
<text x="950.4" y="1638.0" font-family="'Liberation Sans', sans-serif" font-size="37.5" text-anchor="middle">16</text>
<path d="M414.4,884.4H464.0" stroke="#555555" stroke-width="3.4" stroke-linecap="round"/>
<rect x="431.9" y="877.0" width="14.8" height="14.8" fill="#636363" stroke="#555555" stroke-width="1"/>
<text x="470.2" y="891.5" font-family="'Liberation Serif', serif" font-size="21">0.5</text>
<path d="M414.4,911.4H464.0" stroke="#EE3030" stroke-width="3.4" stroke-linecap="round"/>
<circle cx="439.3" cy="911.4" r="8.2" fill="#F14040" stroke="#EE3030" stroke-width="1"/>
<text x="470.2" y="918.4" font-family="'Liberation Serif', serif" font-size="21">1</text>
<path d="M414.4,938.3H464.0" stroke="#1162DD" stroke-width="3.4" stroke-linecap="round"/>
<path d="M439.3,927.7L449.2,944.0L429.4,944.0Z" fill="#1A6FDF" stroke="#1162DD" stroke-width="1"/>
<text x="470.2" y="945.4" font-family="'Liberation Serif', serif" font-size="21">2</text>
<path d="M414.4,965.2H464.0" stroke="#27A25C" stroke-width="3.4" stroke-linecap="round"/>
<path d="M439.3,976.4L449.2,959.7L429.4,959.7Z" fill="#37AD6B" stroke="#27A25C" stroke-width="1"/>
<text x="470.2" y="972.3" font-family="'Liberation Serif', serif" font-size="21">3</text>
<path d="M414.4,992.2H464.0" stroke="#A96ADD" stroke-width="3.4" stroke-linecap="round"/>
<path d="M439.3,982.2L448.4,992.2L439.3,1002.2L430.2,992.2Z" fill="#B177DE" stroke="#A96ADD" stroke-width="1"/>
<text x="470.2" y="999.3" font-family="'Liberation Serif', serif" font-size="21">4</text>
<path d="M414.4,1019.1H464.0" stroke="#C99300" stroke-width="3.4" stroke-linecap="round"/>
<path d="M430.3,1019.1L445.1,1009.1L445.1,1029.2Z" fill="#CC9900" stroke="#C99300" stroke-width="1"/>
<text x="470.2" y="1026.2" font-family="'Liberation Serif', serif" font-size="21">5</text>
<path d="M414.4,1046.1H464.0" stroke="#00C6C8" stroke-width="3.4" stroke-linecap="round"/>
<path d="M448.6,1046.1L433.5,1036.0L433.5,1056.2Z" fill="#00CBCC" stroke="#00C6C8" stroke-width="1"/>
<text x="470.2" y="1053.2" font-family="'Liberation Serif', serif" font-size="21">6</text>
<path d="M414.4,1073.0H464.0" stroke="#774646" stroke-width="3.4" stroke-linecap="round"/>
<polygon points="439.3,1063.7 431.2,1068.4 431.2,1077.7 439.3,1082.4 447.4,1077.7 447.4,1068.4" fill="#7D4E4E" stroke="#774646" stroke-width="1"/>
<text x="470.2" y="1080.1" font-family="'Liberation Serif', serif" font-size="21">7</text>
<path d="M414.4,1100.0H464.0" stroke="#878700" stroke-width="3.4" stroke-linecap="round"/>
<polygon points="439.3,1090.5 436.3,1096.9 429.2,1097.8 434.5,1102.6 433.1,1109.6 439.3,1106.1 445.5,1109.6 444.1,1102.6 449.4,1097.8 442.3,1096.9" fill="#8E8E00" stroke="#878700" stroke-width="1"/>
<text x="470.2" y="1107.1" font-family="'Liberation Serif', serif" font-size="21">8</text>
<path d="M414.4,1127.0H464.0" stroke="#FA5C00" stroke-width="3.4" stroke-linecap="round"/>
<polygon points="439.3,1118.2 429.9,1125.0 433.5,1136.0 445.1,1136.0 448.7,1125.0" fill="#FB6501" stroke="#FA5C00" stroke-width="1"/>
<text x="470.2" y="1134.0" font-family="'Liberation Serif', serif" font-size="21">10</text>
<path d="M414.4,1153.9H464.0" stroke="#5C90C8" stroke-width="3.4" stroke-linecap="round"/>
<circle cx="439.3" cy="1153.9" r="8.5" fill="url(#sph)"/>
<text x="470.2" y="1161.0" font-family="'Liberation Serif', serif" font-size="21">15</text>
<path d="M414.4,1180.8H464.0" stroke="#69B000" stroke-width="3.4" stroke-linecap="round"/>
<path d="M439.3,1172.4V1189.3M430.8,1180.8H447.8" stroke="#69B000" stroke-width="1.6"/>
<text x="470.2" y="1187.9" font-family="'Liberation Serif', serif" font-size="21">20</text>
<path d="M414.4,1207.8H464.0" stroke="#555555" stroke-width="3.4" stroke-linecap="round"/>
<path d="M430.5,1199.0L448.1,1216.6M430.5,1216.6L448.1,1199.0" stroke="#555555" stroke-width="1.6"/>
<text x="470.2" y="1214.9" font-family="'Liberation Serif', serif" font-size="21">25</text>
<path d="M414.4,1234.8H464.0" stroke="#EE3030" stroke-width="3.4" stroke-linecap="round"/>
<path d="M430.5,1226.0L448.1,1243.5M430.5,1243.5L448.1,1226.0M439.3,1226.0V1243.5M430.5,1234.8H448.1" stroke="#EE3030" stroke-width="1.6"/>
<text x="470.2" y="1241.8" font-family="'Liberation Serif', serif" font-size="21">30</text>
<path d="M414.4,1261.7H464.0" stroke="#1162DD" stroke-width="3.4" stroke-linecap="round"/>
<path d="M430.8,1261.7H447.8" stroke="#1162DD" stroke-width="1.6"/>
<text x="470.2" y="1268.8" font-family="'Liberation Serif', serif" font-size="21">35</text>
<path d="M414.4,1288.7H464.0" stroke="#27A25C" stroke-width="3.4" stroke-linecap="round"/>
<path d="M439.3,1280.2V1297.1" stroke="#27A25C" stroke-width="1.6"/>
<text x="470.2" y="1295.7" font-family="'Liberation Serif', serif" font-size="21">40</text>
<text x="666" y="917.6" font-family="'Liberation Serif', serif" font-size="37">BaBMgF-Cu5</text>
<text x="125" y="912.5" font-family="'Liberation Serif', serif" font-size="42">(b)</text>
<text transform="translate(26.9,1234.5) rotate(-90)" font-family="'Liberation Serif', serif" font-size="39.5" text-anchor="middle">EABF</text>
<text x="420.5" y="1683" font-family="'Liberation Serif', serif" font-size="39.5" textLength="238.5" lengthAdjust="spacingAndGlyphs">Energy (MeV)</text>
</svg>
</body></html>
